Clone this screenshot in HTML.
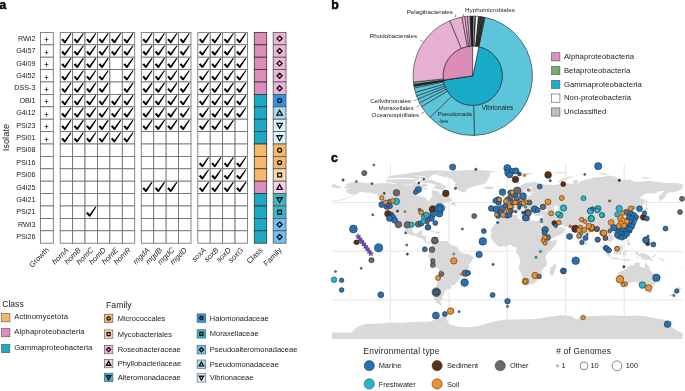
<!DOCTYPE html>
<html><head><meta charset="utf-8"><style>
html,body{margin:0;padding:0;background:#fff;width:685px;height:391px;overflow:hidden}
svg{display:block;font-family:"Liberation Sans",sans-serif;will-change:transform}
</style></head><body>
<svg width="685" height="391" viewBox="0 0 685 391">

<text x="-0.6" y="9.2" style="font-weight:bold;font-size:12px" stroke="#000" stroke-width="0.45">a</text>
<rect x="40.4" y="32.40" width="12.899999999999999" height="12.4" fill="#fff" stroke="#6a6a6a" stroke-width="0.8"/>
<path d="M44.6,39.5 h3.8 M46.5,37.4 v4.2" stroke="#2a2a2a" stroke-width="0.8"/>
<rect x="40.4" y="44.80" width="12.899999999999999" height="12.4" fill="#fff" stroke="#6a6a6a" stroke-width="0.8"/>
<path d="M44.6,52.5 h3.8 M46.5,50.4 v4.2" stroke="#2a2a2a" stroke-width="0.8"/>
<rect x="40.4" y="57.20" width="12.899999999999999" height="12.4" fill="#fff" stroke="#6a6a6a" stroke-width="0.8"/>
<path d="M44.6,64.5 h3.8 M46.5,62.4 v4.2" stroke="#2a2a2a" stroke-width="0.8"/>
<rect x="40.4" y="69.60" width="12.899999999999999" height="12.4" fill="#fff" stroke="#6a6a6a" stroke-width="0.8"/>
<path d="M44.6,77.5 h3.8 M46.5,75.4 v4.2" stroke="#2a2a2a" stroke-width="0.8"/>
<rect x="40.4" y="82.00" width="12.899999999999999" height="12.4" fill="#fff" stroke="#6a6a6a" stroke-width="0.8"/>
<path d="M44.6,89.5 h3.8 M46.5,87.4 v4.2" stroke="#2a2a2a" stroke-width="0.8"/>
<rect x="40.4" y="94.40" width="12.899999999999999" height="12.4" fill="#fff" stroke="#6a6a6a" stroke-width="0.8"/>
<path d="M44.6,101.5 h3.8 M46.5,99.4 v4.2" stroke="#2a2a2a" stroke-width="0.8"/>
<rect x="40.4" y="106.80" width="12.899999999999999" height="12.4" fill="#fff" stroke="#6a6a6a" stroke-width="0.8"/>
<path d="M44.6,114.5 h3.8 M46.5,112.4 v4.2" stroke="#2a2a2a" stroke-width="0.8"/>
<rect x="40.4" y="119.20" width="12.899999999999999" height="12.4" fill="#fff" stroke="#6a6a6a" stroke-width="0.8"/>
<path d="M44.6,126.5 h3.8 M46.5,124.4 v4.2" stroke="#2a2a2a" stroke-width="0.8"/>
<rect x="40.4" y="131.60" width="12.899999999999999" height="12.4" fill="#fff" stroke="#6a6a6a" stroke-width="0.8"/>
<path d="M44.6,139.5 h3.8 M46.5,137.4 v4.2" stroke="#2a2a2a" stroke-width="0.8"/>
<rect x="40.4" y="144.00" width="12.899999999999999" height="12.4" fill="#fff" stroke="#6a6a6a" stroke-width="0.8"/>
<rect x="40.4" y="156.40" width="12.899999999999999" height="12.4" fill="#fff" stroke="#6a6a6a" stroke-width="0.8"/>
<rect x="40.4" y="168.80" width="12.899999999999999" height="12.4" fill="#fff" stroke="#6a6a6a" stroke-width="0.8"/>
<rect x="40.4" y="181.20" width="12.899999999999999" height="12.4" fill="#fff" stroke="#6a6a6a" stroke-width="0.8"/>
<rect x="40.4" y="193.60" width="12.899999999999999" height="12.4" fill="#fff" stroke="#6a6a6a" stroke-width="0.8"/>
<rect x="40.4" y="206.00" width="12.899999999999999" height="12.4" fill="#fff" stroke="#6a6a6a" stroke-width="0.8"/>
<rect x="40.4" y="218.40" width="12.899999999999999" height="12.4" fill="#fff" stroke="#6a6a6a" stroke-width="0.8"/>
<rect x="40.4" y="230.80" width="12.899999999999999" height="12.4" fill="#fff" stroke="#6a6a6a" stroke-width="0.8"/>
<rect x="60.20" y="32.40" width="12.42" height="12.4" fill="#fff" stroke="#6a6a6a" stroke-width="0.8"/>
<rect x="72.62" y="32.40" width="12.42" height="12.4" fill="#fff" stroke="#6a6a6a" stroke-width="0.8"/>
<rect x="85.04" y="32.40" width="12.42" height="12.4" fill="#fff" stroke="#6a6a6a" stroke-width="0.8"/>
<rect x="97.46" y="32.40" width="12.42" height="12.4" fill="#fff" stroke="#6a6a6a" stroke-width="0.8"/>
<rect x="109.88" y="32.40" width="12.42" height="12.4" fill="#fff" stroke="#6a6a6a" stroke-width="0.8"/>
<rect x="122.30" y="32.40" width="12.42" height="12.4" fill="#fff" stroke="#6a6a6a" stroke-width="0.8"/>
<rect x="60.20" y="44.80" width="12.42" height="12.4" fill="#fff" stroke="#6a6a6a" stroke-width="0.8"/>
<rect x="72.62" y="44.80" width="12.42" height="12.4" fill="#fff" stroke="#6a6a6a" stroke-width="0.8"/>
<rect x="85.04" y="44.80" width="12.42" height="12.4" fill="#fff" stroke="#6a6a6a" stroke-width="0.8"/>
<rect x="97.46" y="44.80" width="12.42" height="12.4" fill="#fff" stroke="#6a6a6a" stroke-width="0.8"/>
<rect x="109.88" y="44.80" width="12.42" height="12.4" fill="#fff" stroke="#6a6a6a" stroke-width="0.8"/>
<rect x="122.30" y="44.80" width="12.42" height="12.4" fill="#fff" stroke="#6a6a6a" stroke-width="0.8"/>
<rect x="60.20" y="57.20" width="12.42" height="12.4" fill="#fff" stroke="#6a6a6a" stroke-width="0.8"/>
<rect x="72.62" y="57.20" width="12.42" height="12.4" fill="#fff" stroke="#6a6a6a" stroke-width="0.8"/>
<rect x="85.04" y="57.20" width="12.42" height="12.4" fill="#fff" stroke="#6a6a6a" stroke-width="0.8"/>
<rect x="97.46" y="57.20" width="12.42" height="12.4" fill="#fff" stroke="#6a6a6a" stroke-width="0.8"/>
<rect x="109.88" y="57.20" width="12.42" height="12.4" fill="#fff" stroke="#6a6a6a" stroke-width="0.8"/>
<rect x="122.30" y="57.20" width="12.42" height="12.4" fill="#fff" stroke="#6a6a6a" stroke-width="0.8"/>
<rect x="60.20" y="69.60" width="12.42" height="12.4" fill="#fff" stroke="#6a6a6a" stroke-width="0.8"/>
<rect x="72.62" y="69.60" width="12.42" height="12.4" fill="#fff" stroke="#6a6a6a" stroke-width="0.8"/>
<rect x="85.04" y="69.60" width="12.42" height="12.4" fill="#fff" stroke="#6a6a6a" stroke-width="0.8"/>
<rect x="97.46" y="69.60" width="12.42" height="12.4" fill="#fff" stroke="#6a6a6a" stroke-width="0.8"/>
<rect x="109.88" y="69.60" width="12.42" height="12.4" fill="#fff" stroke="#6a6a6a" stroke-width="0.8"/>
<rect x="122.30" y="69.60" width="12.42" height="12.4" fill="#fff" stroke="#6a6a6a" stroke-width="0.8"/>
<rect x="60.20" y="82.00" width="12.42" height="12.4" fill="#fff" stroke="#6a6a6a" stroke-width="0.8"/>
<rect x="72.62" y="82.00" width="12.42" height="12.4" fill="#fff" stroke="#6a6a6a" stroke-width="0.8"/>
<rect x="85.04" y="82.00" width="12.42" height="12.4" fill="#fff" stroke="#6a6a6a" stroke-width="0.8"/>
<rect x="97.46" y="82.00" width="12.42" height="12.4" fill="#fff" stroke="#6a6a6a" stroke-width="0.8"/>
<rect x="109.88" y="82.00" width="12.42" height="12.4" fill="#fff" stroke="#6a6a6a" stroke-width="0.8"/>
<rect x="122.30" y="82.00" width="12.42" height="12.4" fill="#fff" stroke="#6a6a6a" stroke-width="0.8"/>
<rect x="60.20" y="94.40" width="12.42" height="12.4" fill="#fff" stroke="#6a6a6a" stroke-width="0.8"/>
<rect x="72.62" y="94.40" width="12.42" height="12.4" fill="#fff" stroke="#6a6a6a" stroke-width="0.8"/>
<rect x="85.04" y="94.40" width="12.42" height="12.4" fill="#fff" stroke="#6a6a6a" stroke-width="0.8"/>
<rect x="97.46" y="94.40" width="12.42" height="12.4" fill="#fff" stroke="#6a6a6a" stroke-width="0.8"/>
<rect x="109.88" y="94.40" width="12.42" height="12.4" fill="#fff" stroke="#6a6a6a" stroke-width="0.8"/>
<rect x="122.30" y="94.40" width="12.42" height="12.4" fill="#fff" stroke="#6a6a6a" stroke-width="0.8"/>
<rect x="60.20" y="106.80" width="12.42" height="12.4" fill="#fff" stroke="#6a6a6a" stroke-width="0.8"/>
<rect x="72.62" y="106.80" width="12.42" height="12.4" fill="#fff" stroke="#6a6a6a" stroke-width="0.8"/>
<rect x="85.04" y="106.80" width="12.42" height="12.4" fill="#fff" stroke="#6a6a6a" stroke-width="0.8"/>
<rect x="97.46" y="106.80" width="12.42" height="12.4" fill="#fff" stroke="#6a6a6a" stroke-width="0.8"/>
<rect x="109.88" y="106.80" width="12.42" height="12.4" fill="#fff" stroke="#6a6a6a" stroke-width="0.8"/>
<rect x="122.30" y="106.80" width="12.42" height="12.4" fill="#fff" stroke="#6a6a6a" stroke-width="0.8"/>
<rect x="60.20" y="119.20" width="12.42" height="12.4" fill="#fff" stroke="#6a6a6a" stroke-width="0.8"/>
<rect x="72.62" y="119.20" width="12.42" height="12.4" fill="#fff" stroke="#6a6a6a" stroke-width="0.8"/>
<rect x="85.04" y="119.20" width="12.42" height="12.4" fill="#fff" stroke="#6a6a6a" stroke-width="0.8"/>
<rect x="97.46" y="119.20" width="12.42" height="12.4" fill="#fff" stroke="#6a6a6a" stroke-width="0.8"/>
<rect x="109.88" y="119.20" width="12.42" height="12.4" fill="#fff" stroke="#6a6a6a" stroke-width="0.8"/>
<rect x="122.30" y="119.20" width="12.42" height="12.4" fill="#fff" stroke="#6a6a6a" stroke-width="0.8"/>
<rect x="60.20" y="131.60" width="12.42" height="12.4" fill="#fff" stroke="#6a6a6a" stroke-width="0.8"/>
<rect x="72.62" y="131.60" width="12.42" height="12.4" fill="#fff" stroke="#6a6a6a" stroke-width="0.8"/>
<rect x="85.04" y="131.60" width="12.42" height="12.4" fill="#fff" stroke="#6a6a6a" stroke-width="0.8"/>
<rect x="97.46" y="131.60" width="12.42" height="12.4" fill="#fff" stroke="#6a6a6a" stroke-width="0.8"/>
<rect x="109.88" y="131.60" width="12.42" height="12.4" fill="#fff" stroke="#6a6a6a" stroke-width="0.8"/>
<rect x="122.30" y="131.60" width="12.42" height="12.4" fill="#fff" stroke="#6a6a6a" stroke-width="0.8"/>
<rect x="60.20" y="144.00" width="12.42" height="12.4" fill="#fff" stroke="#6a6a6a" stroke-width="0.8"/>
<rect x="72.62" y="144.00" width="12.42" height="12.4" fill="#fff" stroke="#6a6a6a" stroke-width="0.8"/>
<rect x="85.04" y="144.00" width="12.42" height="12.4" fill="#fff" stroke="#6a6a6a" stroke-width="0.8"/>
<rect x="97.46" y="144.00" width="12.42" height="12.4" fill="#fff" stroke="#6a6a6a" stroke-width="0.8"/>
<rect x="109.88" y="144.00" width="12.42" height="12.4" fill="#fff" stroke="#6a6a6a" stroke-width="0.8"/>
<rect x="122.30" y="144.00" width="12.42" height="12.4" fill="#fff" stroke="#6a6a6a" stroke-width="0.8"/>
<rect x="60.20" y="156.40" width="12.42" height="12.4" fill="#fff" stroke="#6a6a6a" stroke-width="0.8"/>
<rect x="72.62" y="156.40" width="12.42" height="12.4" fill="#fff" stroke="#6a6a6a" stroke-width="0.8"/>
<rect x="85.04" y="156.40" width="12.42" height="12.4" fill="#fff" stroke="#6a6a6a" stroke-width="0.8"/>
<rect x="97.46" y="156.40" width="12.42" height="12.4" fill="#fff" stroke="#6a6a6a" stroke-width="0.8"/>
<rect x="109.88" y="156.40" width="12.42" height="12.4" fill="#fff" stroke="#6a6a6a" stroke-width="0.8"/>
<rect x="122.30" y="156.40" width="12.42" height="12.4" fill="#fff" stroke="#6a6a6a" stroke-width="0.8"/>
<rect x="60.20" y="168.80" width="12.42" height="12.4" fill="#fff" stroke="#6a6a6a" stroke-width="0.8"/>
<rect x="72.62" y="168.80" width="12.42" height="12.4" fill="#fff" stroke="#6a6a6a" stroke-width="0.8"/>
<rect x="85.04" y="168.80" width="12.42" height="12.4" fill="#fff" stroke="#6a6a6a" stroke-width="0.8"/>
<rect x="97.46" y="168.80" width="12.42" height="12.4" fill="#fff" stroke="#6a6a6a" stroke-width="0.8"/>
<rect x="109.88" y="168.80" width="12.42" height="12.4" fill="#fff" stroke="#6a6a6a" stroke-width="0.8"/>
<rect x="122.30" y="168.80" width="12.42" height="12.4" fill="#fff" stroke="#6a6a6a" stroke-width="0.8"/>
<rect x="60.20" y="181.20" width="12.42" height="12.4" fill="#fff" stroke="#6a6a6a" stroke-width="0.8"/>
<rect x="72.62" y="181.20" width="12.42" height="12.4" fill="#fff" stroke="#6a6a6a" stroke-width="0.8"/>
<rect x="85.04" y="181.20" width="12.42" height="12.4" fill="#fff" stroke="#6a6a6a" stroke-width="0.8"/>
<rect x="97.46" y="181.20" width="12.42" height="12.4" fill="#fff" stroke="#6a6a6a" stroke-width="0.8"/>
<rect x="109.88" y="181.20" width="12.42" height="12.4" fill="#fff" stroke="#6a6a6a" stroke-width="0.8"/>
<rect x="122.30" y="181.20" width="12.42" height="12.4" fill="#fff" stroke="#6a6a6a" stroke-width="0.8"/>
<rect x="60.20" y="193.60" width="12.42" height="12.4" fill="#fff" stroke="#6a6a6a" stroke-width="0.8"/>
<rect x="72.62" y="193.60" width="12.42" height="12.4" fill="#fff" stroke="#6a6a6a" stroke-width="0.8"/>
<rect x="85.04" y="193.60" width="12.42" height="12.4" fill="#fff" stroke="#6a6a6a" stroke-width="0.8"/>
<rect x="97.46" y="193.60" width="12.42" height="12.4" fill="#fff" stroke="#6a6a6a" stroke-width="0.8"/>
<rect x="109.88" y="193.60" width="12.42" height="12.4" fill="#fff" stroke="#6a6a6a" stroke-width="0.8"/>
<rect x="122.30" y="193.60" width="12.42" height="12.4" fill="#fff" stroke="#6a6a6a" stroke-width="0.8"/>
<rect x="60.20" y="206.00" width="12.42" height="12.4" fill="#fff" stroke="#6a6a6a" stroke-width="0.8"/>
<rect x="72.62" y="206.00" width="12.42" height="12.4" fill="#fff" stroke="#6a6a6a" stroke-width="0.8"/>
<rect x="85.04" y="206.00" width="12.42" height="12.4" fill="#fff" stroke="#6a6a6a" stroke-width="0.8"/>
<rect x="97.46" y="206.00" width="12.42" height="12.4" fill="#fff" stroke="#6a6a6a" stroke-width="0.8"/>
<rect x="109.88" y="206.00" width="12.42" height="12.4" fill="#fff" stroke="#6a6a6a" stroke-width="0.8"/>
<rect x="122.30" y="206.00" width="12.42" height="12.4" fill="#fff" stroke="#6a6a6a" stroke-width="0.8"/>
<rect x="60.20" y="218.40" width="12.42" height="12.4" fill="#fff" stroke="#6a6a6a" stroke-width="0.8"/>
<rect x="72.62" y="218.40" width="12.42" height="12.4" fill="#fff" stroke="#6a6a6a" stroke-width="0.8"/>
<rect x="85.04" y="218.40" width="12.42" height="12.4" fill="#fff" stroke="#6a6a6a" stroke-width="0.8"/>
<rect x="97.46" y="218.40" width="12.42" height="12.4" fill="#fff" stroke="#6a6a6a" stroke-width="0.8"/>
<rect x="109.88" y="218.40" width="12.42" height="12.4" fill="#fff" stroke="#6a6a6a" stroke-width="0.8"/>
<rect x="122.30" y="218.40" width="12.42" height="12.4" fill="#fff" stroke="#6a6a6a" stroke-width="0.8"/>
<rect x="60.20" y="230.80" width="12.42" height="12.4" fill="#fff" stroke="#6a6a6a" stroke-width="0.8"/>
<rect x="72.62" y="230.80" width="12.42" height="12.4" fill="#fff" stroke="#6a6a6a" stroke-width="0.8"/>
<rect x="85.04" y="230.80" width="12.42" height="12.4" fill="#fff" stroke="#6a6a6a" stroke-width="0.8"/>
<rect x="97.46" y="230.80" width="12.42" height="12.4" fill="#fff" stroke="#6a6a6a" stroke-width="0.8"/>
<rect x="109.88" y="230.80" width="12.42" height="12.4" fill="#fff" stroke="#6a6a6a" stroke-width="0.8"/>
<rect x="122.30" y="230.80" width="12.42" height="12.4" fill="#fff" stroke="#6a6a6a" stroke-width="0.8"/>
<path d="M61.23,39.77 L62.97,38.43 L64.75,40.70 L70.59,33.02 L71.41,33.58 L65.50,42.90 L64.30,43.20Z" fill="#000"/>
<path d="M73.65,39.77 L75.39,38.43 L77.17,40.70 L83.01,33.02 L83.83,33.58 L77.92,42.90 L76.72,43.20Z" fill="#000"/>
<path d="M86.07,39.77 L87.81,38.43 L89.59,40.70 L95.43,33.02 L96.25,33.58 L90.34,42.90 L89.14,43.20Z" fill="#000"/>
<path d="M98.49,39.77 L100.23,38.43 L102.01,40.70 L107.85,33.02 L108.67,33.58 L102.76,42.90 L101.56,43.20Z" fill="#000"/>
<path d="M110.91,39.77 L112.65,38.43 L114.43,40.70 L120.27,33.02 L121.09,33.58 L115.18,42.90 L113.98,43.20Z" fill="#000"/>
<path d="M123.33,39.77 L125.07,38.43 L126.85,40.70 L132.69,33.02 L133.51,33.58 L127.60,42.90 L126.40,43.20Z" fill="#000"/>
<path d="M61.23,52.17 L62.97,50.83 L64.75,53.10 L70.59,45.42 L71.41,45.98 L65.50,55.30 L64.30,55.60Z" fill="#000"/>
<path d="M73.65,52.17 L75.39,50.83 L77.17,53.10 L83.01,45.42 L83.83,45.98 L77.92,55.30 L76.72,55.60Z" fill="#000"/>
<path d="M86.07,52.17 L87.81,50.83 L89.59,53.10 L95.43,45.42 L96.25,45.98 L90.34,55.30 L89.14,55.60Z" fill="#000"/>
<path d="M98.49,52.17 L100.23,50.83 L102.01,53.10 L107.85,45.42 L108.67,45.98 L102.76,55.30 L101.56,55.60Z" fill="#000"/>
<path d="M110.91,52.17 L112.65,50.83 L114.43,53.10 L120.27,45.42 L121.09,45.98 L115.18,55.30 L113.98,55.60Z" fill="#000"/>
<path d="M123.33,52.17 L125.07,50.83 L126.85,53.10 L132.69,45.42 L133.51,45.98 L127.60,55.30 L126.40,55.60Z" fill="#000"/>
<path d="M61.23,64.57 L62.97,63.23 L64.75,65.50 L70.59,57.82 L71.41,58.38 L65.50,67.70 L64.30,68.00Z" fill="#000"/>
<path d="M73.65,64.57 L75.39,63.23 L77.17,65.50 L83.01,57.82 L83.83,58.38 L77.92,67.70 L76.72,68.00Z" fill="#000"/>
<path d="M86.07,64.57 L87.81,63.23 L89.59,65.50 L95.43,57.82 L96.25,58.38 L90.34,67.70 L89.14,68.00Z" fill="#000"/>
<path d="M98.49,64.57 L100.23,63.23 L102.01,65.50 L107.85,57.82 L108.67,58.38 L102.76,67.70 L101.56,68.00Z" fill="#000"/>
<path d="M123.33,64.57 L125.07,63.23 L126.85,65.50 L132.69,57.82 L133.51,58.38 L127.60,67.70 L126.40,68.00Z" fill="#000"/>
<path d="M61.23,76.97 L62.97,75.63 L64.75,77.90 L70.59,70.22 L71.41,70.78 L65.50,80.10 L64.30,80.40Z" fill="#000"/>
<path d="M73.65,76.97 L75.39,75.63 L77.17,77.90 L83.01,70.22 L83.83,70.78 L77.92,80.10 L76.72,80.40Z" fill="#000"/>
<path d="M86.07,76.97 L87.81,75.63 L89.59,77.90 L95.43,70.22 L96.25,70.78 L90.34,80.10 L89.14,80.40Z" fill="#000"/>
<path d="M98.49,76.97 L100.23,75.63 L102.01,77.90 L107.85,70.22 L108.67,70.78 L102.76,80.10 L101.56,80.40Z" fill="#000"/>
<path d="M123.33,76.97 L125.07,75.63 L126.85,77.90 L132.69,70.22 L133.51,70.78 L127.60,80.10 L126.40,80.40Z" fill="#000"/>
<path d="M61.23,89.37 L62.97,88.03 L64.75,90.30 L70.59,82.62 L71.41,83.18 L65.50,92.50 L64.30,92.80Z" fill="#000"/>
<path d="M73.65,89.37 L75.39,88.03 L77.17,90.30 L83.01,82.62 L83.83,83.18 L77.92,92.50 L76.72,92.80Z" fill="#000"/>
<path d="M86.07,89.37 L87.81,88.03 L89.59,90.30 L95.43,82.62 L96.25,83.18 L90.34,92.50 L89.14,92.80Z" fill="#000"/>
<path d="M98.49,89.37 L100.23,88.03 L102.01,90.30 L107.85,82.62 L108.67,83.18 L102.76,92.50 L101.56,92.80Z" fill="#000"/>
<path d="M123.33,89.37 L125.07,88.03 L126.85,90.30 L132.69,82.62 L133.51,83.18 L127.60,92.50 L126.40,92.80Z" fill="#000"/>
<path d="M61.23,101.77 L62.97,100.43 L64.75,102.70 L70.59,95.02 L71.41,95.58 L65.50,104.90 L64.30,105.20Z" fill="#000"/>
<path d="M73.65,101.77 L75.39,100.43 L77.17,102.70 L83.01,95.02 L83.83,95.58 L77.92,104.90 L76.72,105.20Z" fill="#000"/>
<path d="M86.07,101.77 L87.81,100.43 L89.59,102.70 L95.43,95.02 L96.25,95.58 L90.34,104.90 L89.14,105.20Z" fill="#000"/>
<path d="M98.49,101.77 L100.23,100.43 L102.01,102.70 L107.85,95.02 L108.67,95.58 L102.76,104.90 L101.56,105.20Z" fill="#000"/>
<path d="M110.91,101.77 L112.65,100.43 L114.43,102.70 L120.27,95.02 L121.09,95.58 L115.18,104.90 L113.98,105.20Z" fill="#000"/>
<path d="M123.33,101.77 L125.07,100.43 L126.85,102.70 L132.69,95.02 L133.51,95.58 L127.60,104.90 L126.40,105.20Z" fill="#000"/>
<path d="M61.23,114.17 L62.97,112.83 L64.75,115.10 L70.59,107.42 L71.41,107.98 L65.50,117.30 L64.30,117.60Z" fill="#000"/>
<path d="M73.65,114.17 L75.39,112.83 L77.17,115.10 L83.01,107.42 L83.83,107.98 L77.92,117.30 L76.72,117.60Z" fill="#000"/>
<path d="M86.07,114.17 L87.81,112.83 L89.59,115.10 L95.43,107.42 L96.25,107.98 L90.34,117.30 L89.14,117.60Z" fill="#000"/>
<path d="M98.49,114.17 L100.23,112.83 L102.01,115.10 L107.85,107.42 L108.67,107.98 L102.76,117.30 L101.56,117.60Z" fill="#000"/>
<path d="M110.91,114.17 L112.65,112.83 L114.43,115.10 L120.27,107.42 L121.09,107.98 L115.18,117.30 L113.98,117.60Z" fill="#000"/>
<path d="M123.33,114.17 L125.07,112.83 L126.85,115.10 L132.69,107.42 L133.51,107.98 L127.60,117.30 L126.40,117.60Z" fill="#000"/>
<path d="M61.23,126.57 L62.97,125.23 L64.75,127.50 L70.59,119.82 L71.41,120.38 L65.50,129.70 L64.30,130.00Z" fill="#000"/>
<path d="M73.65,126.57 L75.39,125.23 L77.17,127.50 L83.01,119.82 L83.83,120.38 L77.92,129.70 L76.72,130.00Z" fill="#000"/>
<path d="M86.07,126.57 L87.81,125.23 L89.59,127.50 L95.43,119.82 L96.25,120.38 L90.34,129.70 L89.14,130.00Z" fill="#000"/>
<path d="M98.49,126.57 L100.23,125.23 L102.01,127.50 L107.85,119.82 L108.67,120.38 L102.76,129.70 L101.56,130.00Z" fill="#000"/>
<path d="M110.91,126.57 L112.65,125.23 L114.43,127.50 L120.27,119.82 L121.09,120.38 L115.18,129.70 L113.98,130.00Z" fill="#000"/>
<path d="M123.33,126.57 L125.07,125.23 L126.85,127.50 L132.69,119.82 L133.51,120.38 L127.60,129.70 L126.40,130.00Z" fill="#000"/>
<path d="M61.23,138.97 L62.97,137.63 L64.75,139.90 L70.59,132.22 L71.41,132.78 L65.50,142.10 L64.30,142.40Z" fill="#000"/>
<path d="M73.65,138.97 L75.39,137.63 L77.17,139.90 L83.01,132.22 L83.83,132.78 L77.92,142.10 L76.72,142.40Z" fill="#000"/>
<path d="M86.07,138.97 L87.81,137.63 L89.59,139.90 L95.43,132.22 L96.25,132.78 L90.34,142.10 L89.14,142.40Z" fill="#000"/>
<path d="M98.49,138.97 L100.23,137.63 L102.01,139.90 L107.85,132.22 L108.67,132.78 L102.76,142.10 L101.56,142.40Z" fill="#000"/>
<path d="M110.91,138.97 L112.65,137.63 L114.43,139.90 L120.27,132.22 L121.09,132.78 L115.18,142.10 L113.98,142.40Z" fill="#000"/>
<path d="M123.33,138.97 L125.07,137.63 L126.85,139.90 L132.69,132.22 L133.51,132.78 L127.60,142.10 L126.40,142.40Z" fill="#000"/>
<path d="M86.07,213.37 L87.81,212.03 L89.59,214.30 L95.43,206.62 L96.25,207.18 L90.34,216.50 L89.14,216.80Z" fill="#000"/>
<rect x="141.30" y="32.40" width="12.42" height="12.4" fill="#fff" stroke="#6a6a6a" stroke-width="0.8"/>
<rect x="153.72" y="32.40" width="12.42" height="12.4" fill="#fff" stroke="#6a6a6a" stroke-width="0.8"/>
<rect x="166.14" y="32.40" width="12.42" height="12.4" fill="#fff" stroke="#6a6a6a" stroke-width="0.8"/>
<rect x="178.56" y="32.40" width="12.42" height="12.4" fill="#fff" stroke="#6a6a6a" stroke-width="0.8"/>
<rect x="141.30" y="44.80" width="12.42" height="12.4" fill="#fff" stroke="#6a6a6a" stroke-width="0.8"/>
<rect x="153.72" y="44.80" width="12.42" height="12.4" fill="#fff" stroke="#6a6a6a" stroke-width="0.8"/>
<rect x="166.14" y="44.80" width="12.42" height="12.4" fill="#fff" stroke="#6a6a6a" stroke-width="0.8"/>
<rect x="178.56" y="44.80" width="12.42" height="12.4" fill="#fff" stroke="#6a6a6a" stroke-width="0.8"/>
<rect x="141.30" y="57.20" width="12.42" height="12.4" fill="#fff" stroke="#6a6a6a" stroke-width="0.8"/>
<rect x="153.72" y="57.20" width="12.42" height="12.4" fill="#fff" stroke="#6a6a6a" stroke-width="0.8"/>
<rect x="166.14" y="57.20" width="12.42" height="12.4" fill="#fff" stroke="#6a6a6a" stroke-width="0.8"/>
<rect x="178.56" y="57.20" width="12.42" height="12.4" fill="#fff" stroke="#6a6a6a" stroke-width="0.8"/>
<rect x="141.30" y="69.60" width="12.42" height="12.4" fill="#fff" stroke="#6a6a6a" stroke-width="0.8"/>
<rect x="153.72" y="69.60" width="12.42" height="12.4" fill="#fff" stroke="#6a6a6a" stroke-width="0.8"/>
<rect x="166.14" y="69.60" width="12.42" height="12.4" fill="#fff" stroke="#6a6a6a" stroke-width="0.8"/>
<rect x="178.56" y="69.60" width="12.42" height="12.4" fill="#fff" stroke="#6a6a6a" stroke-width="0.8"/>
<rect x="141.30" y="82.00" width="12.42" height="12.4" fill="#fff" stroke="#6a6a6a" stroke-width="0.8"/>
<rect x="153.72" y="82.00" width="12.42" height="12.4" fill="#fff" stroke="#6a6a6a" stroke-width="0.8"/>
<rect x="166.14" y="82.00" width="12.42" height="12.4" fill="#fff" stroke="#6a6a6a" stroke-width="0.8"/>
<rect x="178.56" y="82.00" width="12.42" height="12.4" fill="#fff" stroke="#6a6a6a" stroke-width="0.8"/>
<rect x="141.30" y="94.40" width="12.42" height="12.4" fill="#fff" stroke="#6a6a6a" stroke-width="0.8"/>
<rect x="153.72" y="94.40" width="12.42" height="12.4" fill="#fff" stroke="#6a6a6a" stroke-width="0.8"/>
<rect x="166.14" y="94.40" width="12.42" height="12.4" fill="#fff" stroke="#6a6a6a" stroke-width="0.8"/>
<rect x="178.56" y="94.40" width="12.42" height="12.4" fill="#fff" stroke="#6a6a6a" stroke-width="0.8"/>
<rect x="141.30" y="106.80" width="12.42" height="12.4" fill="#fff" stroke="#6a6a6a" stroke-width="0.8"/>
<rect x="153.72" y="106.80" width="12.42" height="12.4" fill="#fff" stroke="#6a6a6a" stroke-width="0.8"/>
<rect x="166.14" y="106.80" width="12.42" height="12.4" fill="#fff" stroke="#6a6a6a" stroke-width="0.8"/>
<rect x="178.56" y="106.80" width="12.42" height="12.4" fill="#fff" stroke="#6a6a6a" stroke-width="0.8"/>
<rect x="141.30" y="119.20" width="12.42" height="12.4" fill="#fff" stroke="#6a6a6a" stroke-width="0.8"/>
<rect x="153.72" y="119.20" width="12.42" height="12.4" fill="#fff" stroke="#6a6a6a" stroke-width="0.8"/>
<rect x="166.14" y="119.20" width="12.42" height="12.4" fill="#fff" stroke="#6a6a6a" stroke-width="0.8"/>
<rect x="178.56" y="119.20" width="12.42" height="12.4" fill="#fff" stroke="#6a6a6a" stroke-width="0.8"/>
<rect x="141.30" y="131.60" width="12.42" height="12.4" fill="#fff" stroke="#6a6a6a" stroke-width="0.8"/>
<rect x="153.72" y="131.60" width="12.42" height="12.4" fill="#fff" stroke="#6a6a6a" stroke-width="0.8"/>
<rect x="166.14" y="131.60" width="12.42" height="12.4" fill="#fff" stroke="#6a6a6a" stroke-width="0.8"/>
<rect x="178.56" y="131.60" width="12.42" height="12.4" fill="#fff" stroke="#6a6a6a" stroke-width="0.8"/>
<rect x="141.30" y="144.00" width="12.42" height="12.4" fill="#fff" stroke="#6a6a6a" stroke-width="0.8"/>
<rect x="153.72" y="144.00" width="12.42" height="12.4" fill="#fff" stroke="#6a6a6a" stroke-width="0.8"/>
<rect x="166.14" y="144.00" width="12.42" height="12.4" fill="#fff" stroke="#6a6a6a" stroke-width="0.8"/>
<rect x="178.56" y="144.00" width="12.42" height="12.4" fill="#fff" stroke="#6a6a6a" stroke-width="0.8"/>
<rect x="141.30" y="156.40" width="12.42" height="12.4" fill="#fff" stroke="#6a6a6a" stroke-width="0.8"/>
<rect x="153.72" y="156.40" width="12.42" height="12.4" fill="#fff" stroke="#6a6a6a" stroke-width="0.8"/>
<rect x="166.14" y="156.40" width="12.42" height="12.4" fill="#fff" stroke="#6a6a6a" stroke-width="0.8"/>
<rect x="178.56" y="156.40" width="12.42" height="12.4" fill="#fff" stroke="#6a6a6a" stroke-width="0.8"/>
<rect x="141.30" y="168.80" width="12.42" height="12.4" fill="#fff" stroke="#6a6a6a" stroke-width="0.8"/>
<rect x="153.72" y="168.80" width="12.42" height="12.4" fill="#fff" stroke="#6a6a6a" stroke-width="0.8"/>
<rect x="166.14" y="168.80" width="12.42" height="12.4" fill="#fff" stroke="#6a6a6a" stroke-width="0.8"/>
<rect x="178.56" y="168.80" width="12.42" height="12.4" fill="#fff" stroke="#6a6a6a" stroke-width="0.8"/>
<rect x="141.30" y="181.20" width="12.42" height="12.4" fill="#fff" stroke="#6a6a6a" stroke-width="0.8"/>
<rect x="153.72" y="181.20" width="12.42" height="12.4" fill="#fff" stroke="#6a6a6a" stroke-width="0.8"/>
<rect x="166.14" y="181.20" width="12.42" height="12.4" fill="#fff" stroke="#6a6a6a" stroke-width="0.8"/>
<rect x="178.56" y="181.20" width="12.42" height="12.4" fill="#fff" stroke="#6a6a6a" stroke-width="0.8"/>
<rect x="141.30" y="193.60" width="12.42" height="12.4" fill="#fff" stroke="#6a6a6a" stroke-width="0.8"/>
<rect x="153.72" y="193.60" width="12.42" height="12.4" fill="#fff" stroke="#6a6a6a" stroke-width="0.8"/>
<rect x="166.14" y="193.60" width="12.42" height="12.4" fill="#fff" stroke="#6a6a6a" stroke-width="0.8"/>
<rect x="178.56" y="193.60" width="12.42" height="12.4" fill="#fff" stroke="#6a6a6a" stroke-width="0.8"/>
<rect x="141.30" y="206.00" width="12.42" height="12.4" fill="#fff" stroke="#6a6a6a" stroke-width="0.8"/>
<rect x="153.72" y="206.00" width="12.42" height="12.4" fill="#fff" stroke="#6a6a6a" stroke-width="0.8"/>
<rect x="166.14" y="206.00" width="12.42" height="12.4" fill="#fff" stroke="#6a6a6a" stroke-width="0.8"/>
<rect x="178.56" y="206.00" width="12.42" height="12.4" fill="#fff" stroke="#6a6a6a" stroke-width="0.8"/>
<rect x="141.30" y="218.40" width="12.42" height="12.4" fill="#fff" stroke="#6a6a6a" stroke-width="0.8"/>
<rect x="153.72" y="218.40" width="12.42" height="12.4" fill="#fff" stroke="#6a6a6a" stroke-width="0.8"/>
<rect x="166.14" y="218.40" width="12.42" height="12.4" fill="#fff" stroke="#6a6a6a" stroke-width="0.8"/>
<rect x="178.56" y="218.40" width="12.42" height="12.4" fill="#fff" stroke="#6a6a6a" stroke-width="0.8"/>
<rect x="141.30" y="230.80" width="12.42" height="12.4" fill="#fff" stroke="#6a6a6a" stroke-width="0.8"/>
<rect x="153.72" y="230.80" width="12.42" height="12.4" fill="#fff" stroke="#6a6a6a" stroke-width="0.8"/>
<rect x="166.14" y="230.80" width="12.42" height="12.4" fill="#fff" stroke="#6a6a6a" stroke-width="0.8"/>
<rect x="178.56" y="230.80" width="12.42" height="12.4" fill="#fff" stroke="#6a6a6a" stroke-width="0.8"/>
<path d="M142.33,39.77 L144.07,38.43 L145.85,40.70 L151.69,33.02 L152.51,33.58 L146.60,42.90 L145.40,43.20Z" fill="#000"/>
<path d="M154.75,39.77 L156.49,38.43 L158.27,40.70 L164.11,33.02 L164.93,33.58 L159.02,42.90 L157.82,43.20Z" fill="#000"/>
<path d="M167.17,39.77 L168.91,38.43 L170.69,40.70 L176.53,33.02 L177.35,33.58 L171.44,42.90 L170.24,43.20Z" fill="#000"/>
<path d="M179.59,39.77 L181.33,38.43 L183.11,40.70 L188.95,33.02 L189.77,33.58 L183.86,42.90 L182.66,43.20Z" fill="#000"/>
<path d="M142.33,52.17 L144.07,50.83 L145.85,53.10 L151.69,45.42 L152.51,45.98 L146.60,55.30 L145.40,55.60Z" fill="#000"/>
<path d="M154.75,52.17 L156.49,50.83 L158.27,53.10 L164.11,45.42 L164.93,45.98 L159.02,55.30 L157.82,55.60Z" fill="#000"/>
<path d="M167.17,52.17 L168.91,50.83 L170.69,53.10 L176.53,45.42 L177.35,45.98 L171.44,55.30 L170.24,55.60Z" fill="#000"/>
<path d="M179.59,52.17 L181.33,50.83 L183.11,53.10 L188.95,45.42 L189.77,45.98 L183.86,55.30 L182.66,55.60Z" fill="#000"/>
<path d="M142.33,64.57 L144.07,63.23 L145.85,65.50 L151.69,57.82 L152.51,58.38 L146.60,67.70 L145.40,68.00Z" fill="#000"/>
<path d="M154.75,64.57 L156.49,63.23 L158.27,65.50 L164.11,57.82 L164.93,58.38 L159.02,67.70 L157.82,68.00Z" fill="#000"/>
<path d="M167.17,64.57 L168.91,63.23 L170.69,65.50 L176.53,57.82 L177.35,58.38 L171.44,67.70 L170.24,68.00Z" fill="#000"/>
<path d="M179.59,64.57 L181.33,63.23 L183.11,65.50 L188.95,57.82 L189.77,58.38 L183.86,67.70 L182.66,68.00Z" fill="#000"/>
<path d="M142.33,76.97 L144.07,75.63 L145.85,77.90 L151.69,70.22 L152.51,70.78 L146.60,80.10 L145.40,80.40Z" fill="#000"/>
<path d="M154.75,76.97 L156.49,75.63 L158.27,77.90 L164.11,70.22 L164.93,70.78 L159.02,80.10 L157.82,80.40Z" fill="#000"/>
<path d="M167.17,76.97 L168.91,75.63 L170.69,77.90 L176.53,70.22 L177.35,70.78 L171.44,80.10 L170.24,80.40Z" fill="#000"/>
<path d="M179.59,76.97 L181.33,75.63 L183.11,77.90 L188.95,70.22 L189.77,70.78 L183.86,80.10 L182.66,80.40Z" fill="#000"/>
<path d="M142.33,89.37 L144.07,88.03 L145.85,90.30 L151.69,82.62 L152.51,83.18 L146.60,92.50 L145.40,92.80Z" fill="#000"/>
<path d="M154.75,89.37 L156.49,88.03 L158.27,90.30 L164.11,82.62 L164.93,83.18 L159.02,92.50 L157.82,92.80Z" fill="#000"/>
<path d="M167.17,89.37 L168.91,88.03 L170.69,90.30 L176.53,82.62 L177.35,83.18 L171.44,92.50 L170.24,92.80Z" fill="#000"/>
<path d="M179.59,89.37 L181.33,88.03 L183.11,90.30 L188.95,82.62 L189.77,83.18 L183.86,92.50 L182.66,92.80Z" fill="#000"/>
<path d="M142.33,101.77 L144.07,100.43 L145.85,102.70 L151.69,95.02 L152.51,95.58 L146.60,104.90 L145.40,105.20Z" fill="#000"/>
<path d="M154.75,101.77 L156.49,100.43 L158.27,102.70 L164.11,95.02 L164.93,95.58 L159.02,104.90 L157.82,105.20Z" fill="#000"/>
<path d="M167.17,101.77 L168.91,100.43 L170.69,102.70 L176.53,95.02 L177.35,95.58 L171.44,104.90 L170.24,105.20Z" fill="#000"/>
<path d="M179.59,101.77 L181.33,100.43 L183.11,102.70 L188.95,95.02 L189.77,95.58 L183.86,104.90 L182.66,105.20Z" fill="#000"/>
<path d="M142.33,114.17 L144.07,112.83 L145.85,115.10 L151.69,107.42 L152.51,107.98 L146.60,117.30 L145.40,117.60Z" fill="#000"/>
<path d="M154.75,114.17 L156.49,112.83 L158.27,115.10 L164.11,107.42 L164.93,107.98 L159.02,117.30 L157.82,117.60Z" fill="#000"/>
<path d="M167.17,114.17 L168.91,112.83 L170.69,115.10 L176.53,107.42 L177.35,107.98 L171.44,117.30 L170.24,117.60Z" fill="#000"/>
<path d="M179.59,114.17 L181.33,112.83 L183.11,115.10 L188.95,107.42 L189.77,107.98 L183.86,117.30 L182.66,117.60Z" fill="#000"/>
<path d="M142.33,126.57 L144.07,125.23 L145.85,127.50 L151.69,119.82 L152.51,120.38 L146.60,129.70 L145.40,130.00Z" fill="#000"/>
<path d="M154.75,126.57 L156.49,125.23 L158.27,127.50 L164.11,119.82 L164.93,120.38 L159.02,129.70 L157.82,130.00Z" fill="#000"/>
<path d="M167.17,126.57 L168.91,125.23 L170.69,127.50 L176.53,119.82 L177.35,120.38 L171.44,129.70 L170.24,130.00Z" fill="#000"/>
<path d="M179.59,126.57 L181.33,125.23 L183.11,127.50 L188.95,119.82 L189.77,120.38 L183.86,129.70 L182.66,130.00Z" fill="#000"/>
<path d="M142.33,188.57 L144.07,187.23 L145.85,189.50 L151.69,181.82 L152.51,182.38 L146.60,191.70 L145.40,192.00Z" fill="#000"/>
<path d="M154.75,188.57 L156.49,187.23 L158.27,189.50 L164.11,181.82 L164.93,182.38 L159.02,191.70 L157.82,192.00Z" fill="#000"/>
<path d="M167.17,188.57 L168.91,187.23 L170.69,189.50 L176.53,181.82 L177.35,182.38 L171.44,191.70 L170.24,192.00Z" fill="#000"/>
<rect x="197.80" y="32.40" width="12.42" height="12.4" fill="#fff" stroke="#6a6a6a" stroke-width="0.8"/>
<rect x="210.22" y="32.40" width="12.42" height="12.4" fill="#fff" stroke="#6a6a6a" stroke-width="0.8"/>
<rect x="222.64" y="32.40" width="12.42" height="12.4" fill="#fff" stroke="#6a6a6a" stroke-width="0.8"/>
<rect x="235.06" y="32.40" width="12.42" height="12.4" fill="#fff" stroke="#6a6a6a" stroke-width="0.8"/>
<rect x="197.80" y="44.80" width="12.42" height="12.4" fill="#fff" stroke="#6a6a6a" stroke-width="0.8"/>
<rect x="210.22" y="44.80" width="12.42" height="12.4" fill="#fff" stroke="#6a6a6a" stroke-width="0.8"/>
<rect x="222.64" y="44.80" width="12.42" height="12.4" fill="#fff" stroke="#6a6a6a" stroke-width="0.8"/>
<rect x="235.06" y="44.80" width="12.42" height="12.4" fill="#fff" stroke="#6a6a6a" stroke-width="0.8"/>
<rect x="197.80" y="57.20" width="12.42" height="12.4" fill="#fff" stroke="#6a6a6a" stroke-width="0.8"/>
<rect x="210.22" y="57.20" width="12.42" height="12.4" fill="#fff" stroke="#6a6a6a" stroke-width="0.8"/>
<rect x="222.64" y="57.20" width="12.42" height="12.4" fill="#fff" stroke="#6a6a6a" stroke-width="0.8"/>
<rect x="235.06" y="57.20" width="12.42" height="12.4" fill="#fff" stroke="#6a6a6a" stroke-width="0.8"/>
<rect x="197.80" y="69.60" width="12.42" height="12.4" fill="#fff" stroke="#6a6a6a" stroke-width="0.8"/>
<rect x="210.22" y="69.60" width="12.42" height="12.4" fill="#fff" stroke="#6a6a6a" stroke-width="0.8"/>
<rect x="222.64" y="69.60" width="12.42" height="12.4" fill="#fff" stroke="#6a6a6a" stroke-width="0.8"/>
<rect x="235.06" y="69.60" width="12.42" height="12.4" fill="#fff" stroke="#6a6a6a" stroke-width="0.8"/>
<rect x="197.80" y="82.00" width="12.42" height="12.4" fill="#fff" stroke="#6a6a6a" stroke-width="0.8"/>
<rect x="210.22" y="82.00" width="12.42" height="12.4" fill="#fff" stroke="#6a6a6a" stroke-width="0.8"/>
<rect x="222.64" y="82.00" width="12.42" height="12.4" fill="#fff" stroke="#6a6a6a" stroke-width="0.8"/>
<rect x="235.06" y="82.00" width="12.42" height="12.4" fill="#fff" stroke="#6a6a6a" stroke-width="0.8"/>
<rect x="197.80" y="94.40" width="12.42" height="12.4" fill="#fff" stroke="#6a6a6a" stroke-width="0.8"/>
<rect x="210.22" y="94.40" width="12.42" height="12.4" fill="#fff" stroke="#6a6a6a" stroke-width="0.8"/>
<rect x="222.64" y="94.40" width="12.42" height="12.4" fill="#fff" stroke="#6a6a6a" stroke-width="0.8"/>
<rect x="235.06" y="94.40" width="12.42" height="12.4" fill="#fff" stroke="#6a6a6a" stroke-width="0.8"/>
<rect x="197.80" y="106.80" width="12.42" height="12.4" fill="#fff" stroke="#6a6a6a" stroke-width="0.8"/>
<rect x="210.22" y="106.80" width="12.42" height="12.4" fill="#fff" stroke="#6a6a6a" stroke-width="0.8"/>
<rect x="222.64" y="106.80" width="12.42" height="12.4" fill="#fff" stroke="#6a6a6a" stroke-width="0.8"/>
<rect x="235.06" y="106.80" width="12.42" height="12.4" fill="#fff" stroke="#6a6a6a" stroke-width="0.8"/>
<rect x="197.80" y="119.20" width="12.42" height="12.4" fill="#fff" stroke="#6a6a6a" stroke-width="0.8"/>
<rect x="210.22" y="119.20" width="12.42" height="12.4" fill="#fff" stroke="#6a6a6a" stroke-width="0.8"/>
<rect x="222.64" y="119.20" width="12.42" height="12.4" fill="#fff" stroke="#6a6a6a" stroke-width="0.8"/>
<rect x="235.06" y="119.20" width="12.42" height="12.4" fill="#fff" stroke="#6a6a6a" stroke-width="0.8"/>
<rect x="197.80" y="131.60" width="12.42" height="12.4" fill="#fff" stroke="#6a6a6a" stroke-width="0.8"/>
<rect x="210.22" y="131.60" width="12.42" height="12.4" fill="#fff" stroke="#6a6a6a" stroke-width="0.8"/>
<rect x="222.64" y="131.60" width="12.42" height="12.4" fill="#fff" stroke="#6a6a6a" stroke-width="0.8"/>
<rect x="235.06" y="131.60" width="12.42" height="12.4" fill="#fff" stroke="#6a6a6a" stroke-width="0.8"/>
<rect x="197.80" y="144.00" width="12.42" height="12.4" fill="#fff" stroke="#6a6a6a" stroke-width="0.8"/>
<rect x="210.22" y="144.00" width="12.42" height="12.4" fill="#fff" stroke="#6a6a6a" stroke-width="0.8"/>
<rect x="222.64" y="144.00" width="12.42" height="12.4" fill="#fff" stroke="#6a6a6a" stroke-width="0.8"/>
<rect x="235.06" y="144.00" width="12.42" height="12.4" fill="#fff" stroke="#6a6a6a" stroke-width="0.8"/>
<rect x="197.80" y="156.40" width="12.42" height="12.4" fill="#fff" stroke="#6a6a6a" stroke-width="0.8"/>
<rect x="210.22" y="156.40" width="12.42" height="12.4" fill="#fff" stroke="#6a6a6a" stroke-width="0.8"/>
<rect x="222.64" y="156.40" width="12.42" height="12.4" fill="#fff" stroke="#6a6a6a" stroke-width="0.8"/>
<rect x="235.06" y="156.40" width="12.42" height="12.4" fill="#fff" stroke="#6a6a6a" stroke-width="0.8"/>
<rect x="197.80" y="168.80" width="12.42" height="12.4" fill="#fff" stroke="#6a6a6a" stroke-width="0.8"/>
<rect x="210.22" y="168.80" width="12.42" height="12.4" fill="#fff" stroke="#6a6a6a" stroke-width="0.8"/>
<rect x="222.64" y="168.80" width="12.42" height="12.4" fill="#fff" stroke="#6a6a6a" stroke-width="0.8"/>
<rect x="235.06" y="168.80" width="12.42" height="12.4" fill="#fff" stroke="#6a6a6a" stroke-width="0.8"/>
<rect x="197.80" y="181.20" width="12.42" height="12.4" fill="#fff" stroke="#6a6a6a" stroke-width="0.8"/>
<rect x="210.22" y="181.20" width="12.42" height="12.4" fill="#fff" stroke="#6a6a6a" stroke-width="0.8"/>
<rect x="222.64" y="181.20" width="12.42" height="12.4" fill="#fff" stroke="#6a6a6a" stroke-width="0.8"/>
<rect x="235.06" y="181.20" width="12.42" height="12.4" fill="#fff" stroke="#6a6a6a" stroke-width="0.8"/>
<rect x="197.80" y="193.60" width="12.42" height="12.4" fill="#fff" stroke="#6a6a6a" stroke-width="0.8"/>
<rect x="210.22" y="193.60" width="12.42" height="12.4" fill="#fff" stroke="#6a6a6a" stroke-width="0.8"/>
<rect x="222.64" y="193.60" width="12.42" height="12.4" fill="#fff" stroke="#6a6a6a" stroke-width="0.8"/>
<rect x="235.06" y="193.60" width="12.42" height="12.4" fill="#fff" stroke="#6a6a6a" stroke-width="0.8"/>
<rect x="197.80" y="206.00" width="12.42" height="12.4" fill="#fff" stroke="#6a6a6a" stroke-width="0.8"/>
<rect x="210.22" y="206.00" width="12.42" height="12.4" fill="#fff" stroke="#6a6a6a" stroke-width="0.8"/>
<rect x="222.64" y="206.00" width="12.42" height="12.4" fill="#fff" stroke="#6a6a6a" stroke-width="0.8"/>
<rect x="235.06" y="206.00" width="12.42" height="12.4" fill="#fff" stroke="#6a6a6a" stroke-width="0.8"/>
<rect x="197.80" y="218.40" width="12.42" height="12.4" fill="#fff" stroke="#6a6a6a" stroke-width="0.8"/>
<rect x="210.22" y="218.40" width="12.42" height="12.4" fill="#fff" stroke="#6a6a6a" stroke-width="0.8"/>
<rect x="222.64" y="218.40" width="12.42" height="12.4" fill="#fff" stroke="#6a6a6a" stroke-width="0.8"/>
<rect x="235.06" y="218.40" width="12.42" height="12.4" fill="#fff" stroke="#6a6a6a" stroke-width="0.8"/>
<rect x="197.80" y="230.80" width="12.42" height="12.4" fill="#fff" stroke="#6a6a6a" stroke-width="0.8"/>
<rect x="210.22" y="230.80" width="12.42" height="12.4" fill="#fff" stroke="#6a6a6a" stroke-width="0.8"/>
<rect x="222.64" y="230.80" width="12.42" height="12.4" fill="#fff" stroke="#6a6a6a" stroke-width="0.8"/>
<rect x="235.06" y="230.80" width="12.42" height="12.4" fill="#fff" stroke="#6a6a6a" stroke-width="0.8"/>
<path d="M198.83,39.77 L200.57,38.43 L202.35,40.70 L208.19,33.02 L209.01,33.58 L203.10,42.90 L201.90,43.20Z" fill="#000"/>
<path d="M211.25,39.77 L212.99,38.43 L214.77,40.70 L220.61,33.02 L221.43,33.58 L215.52,42.90 L214.32,43.20Z" fill="#000"/>
<path d="M223.67,39.77 L225.41,38.43 L227.19,40.70 L233.03,33.02 L233.85,33.58 L227.94,42.90 L226.74,43.20Z" fill="#000"/>
<path d="M236.09,39.77 L237.83,38.43 L239.61,40.70 L245.45,33.02 L246.27,33.58 L240.36,42.90 L239.16,43.20Z" fill="#000"/>
<path d="M198.83,52.17 L200.57,50.83 L202.35,53.10 L208.19,45.42 L209.01,45.98 L203.10,55.30 L201.90,55.60Z" fill="#000"/>
<path d="M211.25,52.17 L212.99,50.83 L214.77,53.10 L220.61,45.42 L221.43,45.98 L215.52,55.30 L214.32,55.60Z" fill="#000"/>
<path d="M223.67,52.17 L225.41,50.83 L227.19,53.10 L233.03,45.42 L233.85,45.98 L227.94,55.30 L226.74,55.60Z" fill="#000"/>
<path d="M236.09,52.17 L237.83,50.83 L239.61,53.10 L245.45,45.42 L246.27,45.98 L240.36,55.30 L239.16,55.60Z" fill="#000"/>
<path d="M198.83,64.57 L200.57,63.23 L202.35,65.50 L208.19,57.82 L209.01,58.38 L203.10,67.70 L201.90,68.00Z" fill="#000"/>
<path d="M211.25,64.57 L212.99,63.23 L214.77,65.50 L220.61,57.82 L221.43,58.38 L215.52,67.70 L214.32,68.00Z" fill="#000"/>
<path d="M223.67,64.57 L225.41,63.23 L227.19,65.50 L233.03,57.82 L233.85,58.38 L227.94,67.70 L226.74,68.00Z" fill="#000"/>
<path d="M236.09,64.57 L237.83,63.23 L239.61,65.50 L245.45,57.82 L246.27,58.38 L240.36,67.70 L239.16,68.00Z" fill="#000"/>
<path d="M198.83,76.97 L200.57,75.63 L202.35,77.90 L208.19,70.22 L209.01,70.78 L203.10,80.10 L201.90,80.40Z" fill="#000"/>
<path d="M211.25,76.97 L212.99,75.63 L214.77,77.90 L220.61,70.22 L221.43,70.78 L215.52,80.10 L214.32,80.40Z" fill="#000"/>
<path d="M223.67,76.97 L225.41,75.63 L227.19,77.90 L233.03,70.22 L233.85,70.78 L227.94,80.10 L226.74,80.40Z" fill="#000"/>
<path d="M236.09,76.97 L237.83,75.63 L239.61,77.90 L245.45,70.22 L246.27,70.78 L240.36,80.10 L239.16,80.40Z" fill="#000"/>
<path d="M198.83,89.37 L200.57,88.03 L202.35,90.30 L208.19,82.62 L209.01,83.18 L203.10,92.50 L201.90,92.80Z" fill="#000"/>
<path d="M211.25,89.37 L212.99,88.03 L214.77,90.30 L220.61,82.62 L221.43,83.18 L215.52,92.50 L214.32,92.80Z" fill="#000"/>
<path d="M223.67,89.37 L225.41,88.03 L227.19,90.30 L233.03,82.62 L233.85,83.18 L227.94,92.50 L226.74,92.80Z" fill="#000"/>
<path d="M236.09,89.37 L237.83,88.03 L239.61,90.30 L245.45,82.62 L246.27,83.18 L240.36,92.50 L239.16,92.80Z" fill="#000"/>
<path d="M198.83,101.77 L200.57,100.43 L202.35,102.70 L208.19,95.02 L209.01,95.58 L203.10,104.90 L201.90,105.20Z" fill="#000"/>
<path d="M211.25,101.77 L212.99,100.43 L214.77,102.70 L220.61,95.02 L221.43,95.58 L215.52,104.90 L214.32,105.20Z" fill="#000"/>
<path d="M223.67,101.77 L225.41,100.43 L227.19,102.70 L233.03,95.02 L233.85,95.58 L227.94,104.90 L226.74,105.20Z" fill="#000"/>
<path d="M236.09,101.77 L237.83,100.43 L239.61,102.70 L245.45,95.02 L246.27,95.58 L240.36,104.90 L239.16,105.20Z" fill="#000"/>
<path d="M198.83,114.17 L200.57,112.83 L202.35,115.10 L208.19,107.42 L209.01,107.98 L203.10,117.30 L201.90,117.60Z" fill="#000"/>
<path d="M211.25,114.17 L212.99,112.83 L214.77,115.10 L220.61,107.42 L221.43,107.98 L215.52,117.30 L214.32,117.60Z" fill="#000"/>
<path d="M223.67,114.17 L225.41,112.83 L227.19,115.10 L233.03,107.42 L233.85,107.98 L227.94,117.30 L226.74,117.60Z" fill="#000"/>
<path d="M236.09,114.17 L237.83,112.83 L239.61,115.10 L245.45,107.42 L246.27,107.98 L240.36,117.30 L239.16,117.60Z" fill="#000"/>
<path d="M198.83,126.57 L200.57,125.23 L202.35,127.50 L208.19,119.82 L209.01,120.38 L203.10,129.70 L201.90,130.00Z" fill="#000"/>
<path d="M211.25,126.57 L212.99,125.23 L214.77,127.50 L220.61,119.82 L221.43,120.38 L215.52,129.70 L214.32,130.00Z" fill="#000"/>
<path d="M223.67,126.57 L225.41,125.23 L227.19,127.50 L233.03,119.82 L233.85,120.38 L227.94,129.70 L226.74,130.00Z" fill="#000"/>
<path d="M198.83,163.77 L200.57,162.43 L202.35,164.70 L208.19,157.02 L209.01,157.58 L203.10,166.90 L201.90,167.20Z" fill="#000"/>
<path d="M211.25,163.77 L212.99,162.43 L214.77,164.70 L220.61,157.02 L221.43,157.58 L215.52,166.90 L214.32,167.20Z" fill="#000"/>
<path d="M223.67,163.77 L225.41,162.43 L227.19,164.70 L233.03,157.02 L233.85,157.58 L227.94,166.90 L226.74,167.20Z" fill="#000"/>
<path d="M236.09,163.77 L237.83,162.43 L239.61,164.70 L245.45,157.02 L246.27,157.58 L240.36,166.90 L239.16,167.20Z" fill="#000"/>
<path d="M198.83,176.17 L200.57,174.83 L202.35,177.10 L208.19,169.42 L209.01,169.98 L203.10,179.30 L201.90,179.60Z" fill="#000"/>
<path d="M211.25,176.17 L212.99,174.83 L214.77,177.10 L220.61,169.42 L221.43,169.98 L215.52,179.30 L214.32,179.60Z" fill="#000"/>
<path d="M223.67,176.17 L225.41,174.83 L227.19,177.10 L233.03,169.42 L233.85,169.98 L227.94,179.30 L226.74,179.60Z" fill="#000"/>
<path d="M236.09,176.17 L237.83,174.83 L239.61,177.10 L245.45,169.42 L246.27,169.98 L240.36,179.30 L239.16,179.60Z" fill="#000"/>
<path d="M198.83,188.57 L200.57,187.23 L202.35,189.50 L208.19,181.82 L209.01,182.38 L203.10,191.70 L201.90,192.00Z" fill="#000"/>
<path d="M211.25,188.57 L212.99,187.23 L214.77,189.50 L220.61,181.82 L221.43,182.38 L215.52,191.70 L214.32,192.00Z" fill="#000"/>
<path d="M223.67,188.57 L225.41,187.23 L227.19,189.50 L233.03,181.82 L233.85,182.38 L227.94,191.70 L226.74,192.00Z" fill="#000"/>
<path d="M236.09,188.57 L237.83,187.23 L239.61,189.50 L245.45,181.82 L246.27,182.38 L240.36,191.70 L239.16,192.00Z" fill="#000"/>
<rect x="254.3" y="32.40" width="12.40" height="12.4" fill="#dc8dbb" stroke="#333" stroke-width="0.8"/>
<rect x="254.3" y="44.80" width="12.40" height="12.4" fill="#dc8dbb" stroke="#333" stroke-width="0.8"/>
<rect x="254.3" y="57.20" width="12.40" height="12.4" fill="#dc8dbb" stroke="#333" stroke-width="0.8"/>
<rect x="254.3" y="69.60" width="12.40" height="12.4" fill="#dc8dbb" stroke="#333" stroke-width="0.8"/>
<rect x="254.3" y="82.00" width="12.40" height="12.4" fill="#dc8dbb" stroke="#333" stroke-width="0.8"/>
<rect x="254.3" y="94.40" width="12.40" height="12.4" fill="#18aac6" stroke="#333" stroke-width="0.8"/>
<rect x="254.3" y="106.80" width="12.40" height="12.4" fill="#18aac6" stroke="#333" stroke-width="0.8"/>
<rect x="254.3" y="119.20" width="12.40" height="12.4" fill="#18aac6" stroke="#333" stroke-width="0.8"/>
<rect x="254.3" y="131.60" width="12.40" height="12.4" fill="#18aac6" stroke="#333" stroke-width="0.8"/>
<rect x="254.3" y="144.00" width="12.40" height="12.4" fill="#f7b86c" stroke="#333" stroke-width="0.8"/>
<rect x="254.3" y="156.40" width="12.40" height="12.4" fill="#f7b86c" stroke="#333" stroke-width="0.8"/>
<rect x="254.3" y="168.80" width="12.40" height="12.4" fill="#f7b86c" stroke="#333" stroke-width="0.8"/>
<rect x="254.3" y="181.20" width="12.40" height="12.4" fill="#dc8dbb" stroke="#333" stroke-width="0.8"/>
<rect x="254.3" y="193.60" width="12.40" height="12.4" fill="#18aac6" stroke="#333" stroke-width="0.8"/>
<rect x="254.3" y="206.00" width="12.40" height="12.4" fill="#18aac6" stroke="#333" stroke-width="0.8"/>
<rect x="254.3" y="218.40" width="12.40" height="12.4" fill="#18aac6" stroke="#333" stroke-width="0.8"/>
<rect x="254.3" y="230.80" width="12.40" height="12.4" fill="#18aac6" stroke="#333" stroke-width="0.8"/>
<rect x="273.2" y="32.40" width="12.80" height="12.4" fill="#f0b4d6" stroke="#555" stroke-width="0.8"/>
<path d="M279.6,36.08 L282.12,38.6 L279.6,41.120000000000005 L277.08000000000004,38.6Z" fill="none" stroke="#111" stroke-width="1.3"/>
<rect x="273.2" y="44.80" width="12.80" height="12.4" fill="#f0b4d6" stroke="#555" stroke-width="0.8"/>
<path d="M279.6,48.48 L282.12,51.0 L279.6,53.52 L277.08000000000004,51.0Z" fill="none" stroke="#111" stroke-width="1.3"/>
<rect x="273.2" y="57.20" width="12.80" height="12.4" fill="#f0b4d6" stroke="#555" stroke-width="0.8"/>
<path d="M279.6,60.88 L282.12,63.400000000000006 L279.6,65.92 L277.08000000000004,63.400000000000006Z" fill="none" stroke="#111" stroke-width="1.3"/>
<rect x="273.2" y="69.60" width="12.80" height="12.4" fill="#f0b4d6" stroke="#555" stroke-width="0.8"/>
<path d="M279.6,73.28 L282.12,75.8 L279.6,78.32 L277.08000000000004,75.8Z" fill="none" stroke="#111" stroke-width="1.3"/>
<rect x="273.2" y="82.00" width="12.80" height="12.4" fill="#f0b4d6" stroke="#555" stroke-width="0.8"/>
<path d="M279.6,85.68 L282.12,88.2 L279.6,90.72 L277.08000000000004,88.2Z" fill="none" stroke="#111" stroke-width="1.3"/>
<rect x="273.2" y="94.40" width="12.80" height="12.4" fill="#2e93e4" stroke="#555" stroke-width="0.8"/>
<circle cx="279.6" cy="100.60000000000001" r="1.9949999999999999" fill="none" stroke="#111" stroke-width="1.3"/>
<rect x="273.2" y="106.80" width="12.80" height="12.4" fill="#a9d9f3" stroke="#555" stroke-width="0.8"/>
<path d="M279.6,110.27000000000001 L282.33000000000004,115.04750000000001 L276.87,115.04750000000001Z" fill="none" stroke="#111" stroke-width="1.3"/>
<rect x="273.2" y="119.20" width="12.80" height="12.4" fill="#daf3f8" stroke="#555" stroke-width="0.8"/>
<path d="M279.6,128.13 L282.33000000000004,123.35249999999999 L276.87,123.35249999999999Z" fill="none" stroke="#111" stroke-width="1.3"/>
<rect x="273.2" y="131.60" width="12.80" height="12.4" fill="#daf3f8" stroke="#555" stroke-width="0.8"/>
<path d="M279.6,140.52999999999997 L282.33000000000004,135.75249999999997 L276.87,135.75249999999997Z" fill="none" stroke="#111" stroke-width="1.3"/>
<rect x="273.2" y="144.00" width="12.80" height="12.4" fill="#f7b86c" stroke="#555" stroke-width="0.8"/>
<circle cx="279.6" cy="150.2" r="1.9949999999999999" fill="none" stroke="#111" stroke-width="1.3"/>
<rect x="273.2" y="156.40" width="12.80" height="12.4" fill="#f7b86c" stroke="#555" stroke-width="0.8"/>
<circle cx="279.6" cy="162.6" r="1.9949999999999999" fill="none" stroke="#111" stroke-width="1.3"/>
<rect x="273.2" y="168.80" width="12.80" height="12.4" fill="#fbd8b0" stroke="#555" stroke-width="0.8"/>
<rect x="277.71000000000004" y="173.11" width="3.7800000000000002" height="3.7800000000000002" fill="none" stroke="#111" stroke-width="1.3"/>
<rect x="273.2" y="181.20" width="12.80" height="12.4" fill="#f5cfe4" stroke="#555" stroke-width="0.8"/>
<path d="M279.6,184.67000000000002 L282.33000000000004,189.44750000000002 L276.87,189.44750000000002Z" fill="none" stroke="#111" stroke-width="1.3"/>
<rect x="273.2" y="193.60" width="12.80" height="12.4" fill="#3cb5c6" stroke="#555" stroke-width="0.8"/>
<path d="M279.6,202.53 L282.33000000000004,197.7525 L276.87,197.7525Z" fill="none" stroke="#111" stroke-width="1.3"/>
<rect x="273.2" y="206.00" width="12.80" height="12.4" fill="#3cb5c6" stroke="#555" stroke-width="0.8"/>
<rect x="277.71000000000004" y="210.31" width="3.7800000000000002" height="3.7800000000000002" fill="none" stroke="#111" stroke-width="1.3"/>
<rect x="273.2" y="218.40" width="12.80" height="12.4" fill="#72c0f0" stroke="#555" stroke-width="0.8"/>
<path d="M279.6,222.07999999999998 L282.12,224.6 L279.6,227.12 L277.08000000000004,224.6Z" fill="none" stroke="#111" stroke-width="1.3"/>
<rect x="273.2" y="230.80" width="12.80" height="12.4" fill="#72c0f0" stroke="#555" stroke-width="0.8"/>
<path d="M279.6,234.48 L282.12,237.0 L279.6,239.52 L277.08000000000004,237.0Z" fill="none" stroke="#111" stroke-width="1.3"/>
<text x="35.4" y="40.80" text-anchor="end" style="font-size:7.2px" fill="#222">RWi2</text>
<text x="35.4" y="53.20" text-anchor="end" style="font-size:7.2px" fill="#222">G4i57</text>
<text x="35.4" y="65.60" text-anchor="end" style="font-size:7.2px" fill="#222">G4i09</text>
<text x="35.4" y="78.00" text-anchor="end" style="font-size:7.2px" fill="#222">G4i52</text>
<text x="35.4" y="90.40" text-anchor="end" style="font-size:7.2px" fill="#222">DSS-3</text>
<text x="35.4" y="102.80" text-anchor="end" style="font-size:7.2px" fill="#222">OBi1</text>
<text x="35.4" y="115.20" text-anchor="end" style="font-size:7.2px" fill="#222">G4i12</text>
<text x="35.4" y="127.60" text-anchor="end" style="font-size:7.2px" fill="#222">PSi23</text>
<text x="35.4" y="140.00" text-anchor="end" style="font-size:7.2px" fill="#222">PSi01</text>
<text x="35.4" y="152.40" text-anchor="end" style="font-size:7.2px" fill="#222">PSi08</text>
<text x="35.4" y="164.80" text-anchor="end" style="font-size:7.2px" fill="#222">PSi16</text>
<text x="35.4" y="177.20" text-anchor="end" style="font-size:7.2px" fill="#222">PSi06</text>
<text x="35.4" y="189.60" text-anchor="end" style="font-size:7.2px" fill="#222">G4i25</text>
<text x="35.4" y="202.00" text-anchor="end" style="font-size:7.2px" fill="#222">G4i21</text>
<text x="35.4" y="214.40" text-anchor="end" style="font-size:7.2px" fill="#222">PSi21</text>
<text x="35.4" y="226.80" text-anchor="end" style="font-size:7.2px" fill="#222">RWi3</text>
<text x="35.4" y="239.20" text-anchor="end" style="font-size:7.2px" fill="#222">PSi26</text>
<text transform="translate(9.2,137.6) rotate(-90)" text-anchor="middle" style="font-size:9.3px" fill="#222">Isolate</text>
<text transform="translate(49.45,250.6) rotate(-45)" text-anchor="end" style="font-size:7.6px" fill="#222">Growth</text>
<text transform="translate(69.01,250.6) rotate(-45)" text-anchor="end" style="font-style:italic;font-size:7.6px" fill="#222">homA</text>
<text transform="translate(81.43,250.6) rotate(-45)" text-anchor="end" style="font-style:italic;font-size:7.6px" fill="#222">homB</text>
<text transform="translate(93.85,250.6) rotate(-45)" text-anchor="end" style="font-style:italic;font-size:7.6px" fill="#222">homC</text>
<text transform="translate(106.27,250.6) rotate(-45)" text-anchor="end" style="font-style:italic;font-size:7.6px" fill="#222">homD</text>
<text transform="translate(118.69,250.6) rotate(-45)" text-anchor="end" style="font-style:italic;font-size:7.6px" fill="#222">homE</text>
<text transform="translate(131.11,250.6) rotate(-45)" text-anchor="end" style="font-style:italic;font-size:7.6px" fill="#222">homR</text>
<text transform="translate(150.11,250.6) rotate(-45)" text-anchor="end" style="font-style:italic;font-size:7.6px" fill="#222">mgdA</text>
<text transform="translate(162.53,250.6) rotate(-45)" text-anchor="end" style="font-style:italic;font-size:7.6px" fill="#222">mgdB</text>
<text transform="translate(174.95,250.6) rotate(-45)" text-anchor="end" style="font-style:italic;font-size:7.6px" fill="#222">mgdC</text>
<text transform="translate(187.37,250.6) rotate(-45)" text-anchor="end" style="font-style:italic;font-size:7.6px" fill="#222">mgdD</text>
<text transform="translate(206.61,250.6) rotate(-45)" text-anchor="end" style="font-style:italic;font-size:7.6px" fill="#222">soxA</text>
<text transform="translate(219.03,250.6) rotate(-45)" text-anchor="end" style="font-style:italic;font-size:7.6px" fill="#222">soxB</text>
<text transform="translate(231.45,250.6) rotate(-45)" text-anchor="end" style="font-style:italic;font-size:7.6px" fill="#222">soxD</text>
<text transform="translate(243.87,250.6) rotate(-45)" text-anchor="end" style="font-style:italic;font-size:7.6px" fill="#222">soxG</text>
<text transform="translate(263.10,250.6) rotate(-45)" text-anchor="end" style="font-size:7.6px" fill="#222">Class</text>
<text transform="translate(282.20,250.6) rotate(-45)" text-anchor="end" style="font-size:7.6px" fill="#222">Family</text>
<text x="2.2" y="307" style="font-size:8.6px" fill="#222">Class</text>
<rect x="1.5" y="313.4" width="8.4" height="8.4" fill="#f7b86c" stroke="#555" stroke-width="0.6"/>
<text x="14.2" y="319.0" style="font-size:7.75px;letter-spacing:0.06px" fill="#222">Actinomycetota</text>
<rect x="1.5" y="328.4" width="8.4" height="8.4" fill="#dc8dbb" stroke="#555" stroke-width="0.6"/>
<text x="14.2" y="334.0" style="font-size:7.75px;letter-spacing:0.06px" fill="#222">Alphaproteobacteria</text>
<rect x="1.5" y="344.3" width="8.4" height="8.4" fill="#18aac6" stroke="#555" stroke-width="0.6"/>
<text x="14.2" y="349.9" style="font-size:7.75px;letter-spacing:0.06px" fill="#222">Gammaproteobacteria</text>
<text x="106" y="307.5" style="font-size:8.7px" fill="#222">Family</text>
<rect x="104.3" y="314.2" width="8.6" height="8.4" fill="#f7b86c" stroke="#555" stroke-width="0.6"/>
<circle cx="108.6" cy="318.4" r="1.615" fill="none" stroke="#111" stroke-width="1.3"/>
<text x="117.7" y="320.8" style="font-size:7.5px" fill="#222">Micrococcales</text>
<rect x="104.3" y="329.9" width="8.6" height="8.4" fill="#fbd8b0" stroke="#555" stroke-width="0.6"/>
<rect x="107.07" y="332.57" width="3.06" height="3.06" fill="none" stroke="#111" stroke-width="1.3"/>
<text x="117.7" y="336.5" style="font-size:7.5px" fill="#222">Mycobacteriales</text>
<rect x="104.3" y="345.4" width="8.6" height="8.4" fill="#f0b4d6" stroke="#555" stroke-width="0.6"/>
<path d="M108.6,347.55999999999995 L110.64,349.59999999999997 L108.6,351.64 L106.55999999999999,349.59999999999997Z" fill="none" stroke="#111" stroke-width="1.3"/>
<text x="117.7" y="352.0" style="font-size:7.5px" fill="#222">Roseobacteraceae</text>
<rect x="104.3" y="359.4" width="8.6" height="8.4" fill="#f5cfe4" stroke="#555" stroke-width="0.6"/>
<path d="M108.6,361.39 L110.80999999999999,365.2575 L106.39,365.2575Z" fill="none" stroke="#111" stroke-width="1.3"/>
<text x="117.7" y="366.0" style="font-size:7.5px" fill="#222">Phyllobacteriaceae</text>
<rect x="104.3" y="373.2" width="8.6" height="8.4" fill="#3cb5c6" stroke="#555" stroke-width="0.6"/>
<path d="M108.6,379.60999999999996 L110.80999999999999,375.74249999999995 L106.39,375.74249999999995Z" fill="none" stroke="#111" stroke-width="1.3"/>
<text x="117.7" y="379.8" style="font-size:7.5px" fill="#222">Alteromonadaceae</text>
<rect x="197.1" y="313.9" width="8.6" height="8.4" fill="#2e93e4" stroke="#555" stroke-width="0.6"/>
<circle cx="201.4" cy="318.09999999999997" r="1.615" fill="none" stroke="#111" stroke-width="1.3"/>
<text x="209.8" y="320.5" style="font-size:7.5px" fill="#222">Halomonadaceae</text>
<rect x="197.1" y="329.7" width="8.6" height="8.4" fill="#3cb5c6" stroke="#555" stroke-width="0.6"/>
<rect x="199.87" y="332.37" width="3.06" height="3.06" fill="none" stroke="#111" stroke-width="1.3"/>
<text x="209.8" y="336.3" style="font-size:7.5px" fill="#222">Moraxellaceae</text>
<rect x="197.1" y="345.6" width="8.6" height="8.4" fill="#72c0f0" stroke="#555" stroke-width="0.6"/>
<path d="M201.4,347.76 L203.44,349.8 L201.4,351.84000000000003 L199.36,349.8Z" fill="none" stroke="#111" stroke-width="1.3"/>
<text x="209.8" y="352.2" style="font-size:7.5px" fill="#222">Pseudoalteromonadaceae</text>
<rect x="197.1" y="360.0" width="8.6" height="8.4" fill="#a9d9f3" stroke="#555" stroke-width="0.6"/>
<path d="M201.4,361.99 L203.61,365.8575 L199.19,365.8575Z" fill="none" stroke="#111" stroke-width="1.3"/>
<text x="209.8" y="366.6" style="font-size:7.5px" fill="#222">Pseudomonadaceae</text>
<rect x="197.1" y="373.7" width="8.6" height="8.4" fill="#daf3f8" stroke="#555" stroke-width="0.6"/>
<path d="M201.4,380.10999999999996 L203.61,376.24249999999995 L199.19,376.24249999999995Z" fill="none" stroke="#111" stroke-width="1.3"/>
<text x="209.8" y="380.3" style="font-size:7.5px" fill="#222">Vibrionaceae</text>
<text x="331.3" y="9.1" style="font-weight:bold;font-size:12.3px" stroke="#000" stroke-width="0.45">b</text>
<path d="M484.96,17.36 A59.7,59.7 0 0 1 474.42,135.48 L473.58,105.39 A29.6,29.6 0 0 0 478.80,46.83 Z" fill="#5cc5da" stroke="#1a1a1a" stroke-width="0.55" stroke-linejoin="round"/>
<path d="M474.42,135.48 A59.7,59.7 0 0 1 429.95,117.42 L451.53,96.44 A29.6,29.6 0 0 0 473.58,105.39 Z" fill="#5cc5da" stroke="#1a1a1a" stroke-width="0.55" stroke-linejoin="round"/>
<path d="M429.95,117.42 A59.7,59.7 0 0 1 421.58,106.55 L447.38,91.05 A29.6,29.6 0 0 0 451.53,96.44 Z" fill="#5cc5da" stroke="#1a1a1a" stroke-width="0.55" stroke-linejoin="round"/>
<path d="M421.58,106.55 A59.7,59.7 0 0 1 419.46,102.72 L446.33,89.15 A29.6,29.6 0 0 0 447.38,91.05 Z" fill="#5cc5da" stroke="#1a1a1a" stroke-width="0.55" stroke-linejoin="round"/>
<path d="M419.46,102.72 A59.7,59.7 0 0 1 417.80,99.13 L445.50,87.37 A29.6,29.6 0 0 0 446.33,89.15 Z" fill="#5cc5da" stroke="#1a1a1a" stroke-width="0.55" stroke-linejoin="round"/>
<path d="M417.80,99.13 A59.7,59.7 0 0 1 416.54,95.92 L444.88,85.78 A29.6,29.6 0 0 0 445.50,87.37 Z" fill="#5cc5da" stroke="#1a1a1a" stroke-width="0.55" stroke-linejoin="round"/>
<path d="M416.54,95.92 A59.7,59.7 0 0 1 415.39,92.36 L444.31,84.01 A29.6,29.6 0 0 0 444.88,85.78 Z" fill="#5cc5da" stroke="#1a1a1a" stroke-width="0.55" stroke-linejoin="round"/>
<path d="M415.39,92.36 A59.7,59.7 0 0 1 414.29,87.91 L443.77,81.80 A29.6,29.6 0 0 0 444.31,84.01 Z" fill="#5cc5da" stroke="#1a1a1a" stroke-width="0.55" stroke-linejoin="round"/>
<path d="M414.29,87.91 A59.7,59.7 0 0 1 413.98,86.27 L443.61,80.99 A29.6,29.6 0 0 0 443.77,81.80 Z" fill="#5cc5da" stroke="#1a1a1a" stroke-width="0.55" stroke-linejoin="round"/>
<path d="M413.98,86.27 A59.7,59.7 0 0 1 413.87,85.65 L443.56,80.69 A29.6,29.6 0 0 0 443.61,80.99 Z" fill="#222" stroke="#1a1a1a" stroke-width="0.55" stroke-linejoin="round"/>
<path d="M413.87,85.65 A59.7,59.7 0 0 1 413.77,85.04 L443.51,80.38 A29.6,29.6 0 0 0 443.56,80.69 Z" fill="#222" stroke="#1a1a1a" stroke-width="0.55" stroke-linejoin="round"/>
<path d="M413.77,85.04 A59.7,59.7 0 0 1 413.66,84.31 L443.45,80.02 A29.6,29.6 0 0 0 443.51,80.38 Z" fill="#222" stroke="#1a1a1a" stroke-width="0.55" stroke-linejoin="round"/>
<path d="M413.66,84.31 A59.7,59.7 0 0 1 413.38,82.04 L443.31,78.89 A29.6,29.6 0 0 0 443.45,80.02 Z" fill="#76b07a" stroke="#1a1a1a" stroke-width="0.55" stroke-linejoin="round"/>
<path d="M413.38,82.04 A59.7,59.7 0 0 1 449.81,20.68 L461.37,48.47 A29.6,29.6 0 0 0 443.31,78.89 Z" fill="#e6b1d0" stroke="#1a1a1a" stroke-width="0.55" stroke-linejoin="round"/>
<path d="M449.81,20.68 A59.7,59.7 0 0 1 461.97,17.08 L467.41,46.69 A29.6,29.6 0 0 0 461.37,48.47 Z" fill="#e6b1d0" stroke="#1a1a1a" stroke-width="0.55" stroke-linejoin="round"/>
<path d="M461.97,17.08 A59.7,59.7 0 0 1 464.85,16.62 L468.84,46.46 A29.6,29.6 0 0 0 467.41,46.69 Z" fill="#e6b1d0" stroke="#1a1a1a" stroke-width="0.55" stroke-linejoin="round"/>
<path d="M464.85,16.62 A59.7,59.7 0 0 1 467.44,16.34 L470.12,46.32 A29.6,29.6 0 0 0 468.84,46.46 Z" fill="#e6b1d0" stroke="#1a1a1a" stroke-width="0.55" stroke-linejoin="round"/>
<path d="M467.44,16.34 A59.7,59.7 0 0 1 470.04,16.16 L471.41,46.23 A29.6,29.6 0 0 0 470.12,46.32 Z" fill="#e6b1d0" stroke="#1a1a1a" stroke-width="0.55" stroke-linejoin="round"/>
<path d="M470.04,16.16 A59.7,59.7 0 0 1 473.27,16.10 L473.01,46.20 A29.6,29.6 0 0 0 471.41,46.23 Z" fill="#1a1a1a" stroke="#1a1a1a" stroke-width="0.55" stroke-linejoin="round"/>
<path d="M473.27,16.10 A59.7,59.7 0 0 1 475.04,16.14 L473.89,46.22 A29.6,29.6 0 0 0 473.01,46.20 Z" fill="#d2d2d2" stroke="#1a1a1a" stroke-width="0.55" stroke-linejoin="round"/>
<path d="M475.04,16.14 A59.7,59.7 0 0 1 475.67,16.17 L474.20,46.24 A29.6,29.6 0 0 0 473.89,46.22 Z" fill="#333" stroke="#1a1a1a" stroke-width="0.55" stroke-linejoin="round"/>
<path d="M475.67,16.17 A59.7,59.7 0 0 1 478.58,16.38 L475.64,46.34 A29.6,29.6 0 0 0 474.20,46.24 Z" fill="#fff" stroke="#1a1a1a" stroke-width="0.55" stroke-linejoin="round"/>
<path d="M478.58,16.38 A59.7,59.7 0 0 1 479.40,16.47 L476.05,46.38 A29.6,29.6 0 0 0 475.64,46.34 Z" fill="#2e2e2e" stroke="#1a1a1a" stroke-width="0.55" stroke-linejoin="round"/>
<path d="M479.40,16.47 A59.7,59.7 0 0 1 480.23,16.57 L476.46,46.43 A29.6,29.6 0 0 0 476.05,46.38 Z" fill="#8a8a8a" stroke="#1a1a1a" stroke-width="0.55" stroke-linejoin="round"/>
<path d="M480.23,16.57 A59.7,59.7 0 0 1 481.06,16.68 L476.87,46.49 A29.6,29.6 0 0 0 476.46,46.43 Z" fill="#2e2e2e" stroke="#1a1a1a" stroke-width="0.55" stroke-linejoin="round"/>
<path d="M481.06,16.68 A59.7,59.7 0 0 1 481.88,16.80 L477.28,46.55 A29.6,29.6 0 0 0 476.87,46.49 Z" fill="#8a8a8a" stroke="#1a1a1a" stroke-width="0.55" stroke-linejoin="round"/>
<path d="M481.88,16.80 A59.7,59.7 0 0 1 482.71,16.94 L477.69,46.61 A29.6,29.6 0 0 0 477.28,46.55 Z" fill="#2e2e2e" stroke="#1a1a1a" stroke-width="0.55" stroke-linejoin="round"/>
<path d="M482.71,16.94 A59.7,59.7 0 0 1 483.53,17.08 L478.09,46.69 A29.6,29.6 0 0 0 477.69,46.61 Z" fill="#8a8a8a" stroke="#1a1a1a" stroke-width="0.55" stroke-linejoin="round"/>
<path d="M483.53,17.08 A59.7,59.7 0 0 1 484.24,17.22 L478.45,46.75 A29.6,29.6 0 0 0 478.09,46.69 Z" fill="#2e2e2e" stroke="#1a1a1a" stroke-width="0.55" stroke-linejoin="round"/>
<path d="M484.24,17.22 A59.7,59.7 0 0 1 484.96,17.36 L478.80,46.83 A29.6,29.6 0 0 0 478.45,46.75 Z" fill="#8a8a8a" stroke="#1a1a1a" stroke-width="0.55" stroke-linejoin="round"/>
<path d="M472.75,75.80 L478.85,46.84 A29.6,29.6 0 1 1 443.50,80.33 Z" fill="#17abc8" stroke="#1a1a1a" stroke-width="0.55" stroke-linejoin="round"/>
<path d="M472.75,75.80 L443.50,80.33 A29.6,29.6 0 0 1 443.45,79.97 Z" fill="#76b07a" stroke="#1a1a1a" stroke-width="0.55" stroke-linejoin="round"/>
<path d="M472.75,75.80 L443.45,79.97 A29.6,29.6 0 0 1 472.65,46.20 Z" fill="#db8cb9" stroke="#1a1a1a" stroke-width="0.55" stroke-linejoin="round"/>
<path d="M472.75,75.80 L472.65,46.20 A29.6,29.6 0 0 1 478.85,46.84 Z" fill="#ffffff" stroke="#1a1a1a" stroke-width="0.55" stroke-linejoin="round"/>
<text x="406.7" y="13.5" style="font-size:6.25px" fill="#222">Pelagibacterales</text>
<text x="465.1" y="12.3" style="font-size:6.25px" fill="#222">Hyphomicrobiales</text>
<text x="369.8" y="38.1" style="font-size:6.25px" fill="#222">Rhodobacterales</text>
<text x="411" y="103.3" text-anchor="end" style="font-size:6.25px" fill="#222">Cellvibrionales</text>
<text x="413.7" y="109.7" text-anchor="end" style="font-size:6.25px" fill="#222">Moraxellales</text>
<text x="419.2" y="116.8" text-anchor="end" style="font-size:6.25px" fill="#222">Oceanospirillales</text>
<text x="481.7" y="110.4" style="font-size:6.4px" fill="#222">Vibrionales</text>
<text x="437.7" y="116.4" style="font-size:6.1px" fill="#222">Pseudonada</text>
<text x="438.2" y="122.6" style="font-size:6.1px" fill="#222">-les</text>
<path d="M414.2,100.6 L416.6,99.8 M416.5,107.1 L419.5,105.2 M421.2,113.8 L424.2,112.0 M455.3,17.4 L455.8,14.2 M463.2,16.8 L463.7,13.9 M420.2,40.0 L423.6,41.6" stroke="#333" stroke-width="0.5" fill="none"/>
<rect x="551.5" y="52.7" width="8.4" height="8.2" fill="#e08dc0" stroke="#555" stroke-width="0.6"/>
<text x="563.9" y="59.0" style="font-size:7.75px;letter-spacing:0.05px" fill="#222">Alphaproteobacteria</text>
<rect x="551.5" y="66.5" width="8.4" height="8.2" fill="#6fae6f" stroke="#555" stroke-width="0.6"/>
<text x="563.9" y="72.8" style="font-size:7.75px;letter-spacing:0.05px" fill="#222">Betaproteobacteria</text>
<rect x="551.5" y="80.3" width="8.4" height="8.2" fill="#1aaecb" stroke="#555" stroke-width="0.6"/>
<text x="563.9" y="86.6" style="font-size:7.75px;letter-spacing:0.05px" fill="#222">Gammaproteobacteria</text>
<rect x="551.5" y="94.0" width="8.4" height="8.2" fill="#ffffff" stroke="#555" stroke-width="0.6"/>
<text x="563.9" y="100.3" style="font-size:7.75px;letter-spacing:0.05px" fill="#222">Non-proteobacteria</text>
<rect x="551.5" y="107.9" width="8.4" height="8.2" fill="#c0c0c0" stroke="#555" stroke-width="0.6"/>
<text x="563.9" y="114.2" style="font-size:7.75px;letter-spacing:0.05px" fill="#222">Unclassified</text>
<text x="331" y="161.9" style="font-weight:bold;font-size:12.3px" stroke="#000" stroke-width="0.45">c</text>
<path d="M390.4,163.5 V338.9 M448.9,163.5 V338.9 M507.3,163.5 V338.9 M565.7,163.5 V338.9 M624.2,163.5 V338.9 M332.0,202.5 H682.6 M332.0,251.2 H682.6 M332.0,299.9 H682.6" stroke="#e8e8e8" stroke-width="1.1" fill="none"/>
<path d="M345.6,188.3 L350.5,188.4 L347.1,189.6 L346.1,190.8 L347.1,192.3 L349.5,194.1 L353.9,194.2 L350.5,196.7 L347.1,198.1 L349.5,197.4 L353.4,195.7 L357.3,193.7 L360.2,191.8 L363.1,192.3 L367.0,192.8 L370.9,193.0 L373.9,193.7 L377.8,195.2 L380.7,198.1 L383.1,201.5 L385.1,202.2 L385.8,204.1 L386.5,206.2 L386.3,209.3 L386.5,211.9 L388.0,214.7 L389.8,217.5 L391.9,218.1 L393.2,219.5 L394.3,221.5 L396.3,223.9 L398.2,226.8 L400.6,228.8 L400.2,228.3 L398.2,225.4 L395.8,222.0 L395.5,220.2 L397.7,222.5 L401.1,225.9 L403.6,228.3 L404.7,230.3 L404.5,231.7 L406.5,233.4 L410.4,234.8 L413.3,235.9 L415.7,235.6 L418.2,237.6 L422.1,238.5 L423.7,240.5 L424.8,241.8 L427.4,243.2 L428.9,244.1 L430.4,243.4 L432.0,243.5 L431.8,242.9 L429.9,241.9 L427.9,242.4 L426.0,240.5 L426.3,236.6 L424.5,235.6 L421.3,235.6 L422.1,233.2 L422.6,230.3 L419.3,230.7 L419.2,231.9 L417.7,233.1 L415.3,233.5 L413.3,232.2 L412.1,229.8 L412.3,226.8 L412.8,224.1 L415.7,222.4 L418.7,222.6 L420.1,222.8 L421.1,221.6 L423.5,221.6 L425.2,222.0 L426.5,223.0 L426.8,224.4 L427.9,226.4 L429.0,226.7 L429.3,225.4 L428.0,222.0 L428.4,220.5 L430.4,218.8 L431.8,217.8 L433.8,216.8 L433.3,215.2 L433.8,214.2 L435.2,213.2 L435.2,211.8 L437.2,211.3 L439.1,210.6 L438.6,209.3 L441.6,207.9 L443.0,208.5 L445.5,207.9 L448.9,206.4 L447.9,206.7 L444.0,205.4 L444.5,203.5 L440.1,204.0 L443.0,202.4 L448.9,202.3 L452.8,200.3 L451.3,198.6 L447.4,196.2 L444.5,192.5 L442.5,194.2 L439.6,193.7 L439.1,191.8 L435.2,190.5 L431.8,190.3 L431.8,193.2 L432.3,196.2 L430.4,198.6 L429.4,201.2 L427.1,199.8 L425.5,197.4 L421.6,196.5 L417.2,195.7 L415.3,193.7 L416.7,191.8 L419.6,189.4 L422.6,188.4 L423.5,186.9 L427.4,186.4 L427.9,184.5 L424.5,183.5 L421.6,184.5 L417.2,183.5 L414.8,181.6 L412.8,184.5 L408.0,185.2 L402.1,184.7 L397.2,184.8 L392.4,184.2 L385.6,183.5 L380.7,183.0 L375.8,183.7 L370.0,183.3 L366.1,182.9 L359.3,182.2 L354.9,181.8 L349.5,182.8 L345.1,184.7 L347.1,185.9 L343.7,187.3Z M431.4,243.9 L431.9,244.7 L431.8,247.3 L430.4,249.5 L429.4,250.2 L428.9,252.2 L429.4,253.6 L428.4,255.4 L428.2,257.0 L429.4,258.5 L430.8,260.9 L432.8,263.9 L434.2,266.3 L438.6,269.0 L438.9,270.7 L438.8,275.6 L437.8,280.4 L437.5,283.3 L436.0,287.2 L435.5,290.2 L435.7,293.1 L435.2,296.0 L434.0,298.9 L435.2,301.8 L438.1,303.8 L440.6,305.3 L442.5,304.8 L440.6,302.8 L440.1,301.7 L441.1,300.2 L443.0,297.8 L441.6,296.5 L443.7,295.0 L445.0,292.6 L444.0,291.1 L446.7,290.6 L446.9,289.2 L450.8,288.7 L451.8,286.8 L450.3,284.8 L453.7,285.3 L455.7,283.8 L458.1,280.9 L460.0,278.5 L460.5,276.0 L464.4,273.6 L467.4,272.6 L468.3,270.7 L469.3,268.2 L469.3,264.3 L471.3,261.9 L473.2,259.0 L473.0,256.6 L470.3,254.9 L467.4,254.0 L464.0,253.6 L460.5,252.2 L458.6,251.2 L458.6,249.4 L457.1,247.0 L454.7,245.6 L451.8,245.4 L448.9,242.9 L446.9,240.8 L445.0,240.9 L441.1,241.0 L437.7,240.5 L437.2,239.3 L433.8,241.0 L432.0,243.1Z M500.7,218.1 L498.3,219.5 L497.9,221.5 L497.6,222.8 L494.6,224.2 L493.2,226.4 L491.7,228.1 L490.7,230.7 L491.6,232.7 L491.2,235.1 L490.4,236.9 L491.0,239.0 L492.7,240.5 L494.3,242.4 L496.1,244.6 L498.5,246.3 L500.0,246.9 L502.9,246.1 L505.4,246.5 L509.2,245.1 L511.7,245.1 L513.1,247.0 L515.6,246.8 L516.8,248.3 L516.1,251.2 L516.6,253.6 L519.0,256.1 L519.3,257.0 L520.0,260.0 L520.6,261.9 L519.5,264.3 L518.8,268.2 L520.0,271.2 L521.4,273.1 L522.1,277.5 L523.4,279.0 L524.8,282.4 L525.2,284.3 L526.8,285.1 L529.2,284.3 L532.1,284.3 L534.6,283.3 L537.5,280.2 L539.2,278.0 L539.4,276.0 L541.9,274.6 L541.9,272.6 L541.4,270.7 L543.3,268.2 L546.7,265.8 L546.7,261.4 L545.8,259.5 L545.5,257.0 L546.3,254.6 L547.7,253.1 L549.2,251.7 L552.1,249.3 L554.1,246.8 L555.5,244.9 L557.0,241.1 L557.2,239.7 L550.6,241.1 L549.5,239.5 L547.7,238.1 L545.8,236.1 L544.8,233.4 L543.5,230.7 L541.9,227.8 L539.9,223.9 L540.9,222.5 L540.6,220.8 L538.8,220.7 L535.5,221.1 L531.6,220.3 L529.7,219.4 L527.0,219.8 L526.3,221.7 L523.9,221.0 L522.1,219.7 L518.5,219.0 L517.2,217.9 L517.5,216.6 L518.1,215.4 L517.0,214.9 L513.1,215.1 L508.3,215.6 L505.4,217.0 L501.6,216.3Z M502.9,215.5 L505.4,215.4 L506.8,213.9 L507.3,212.7 L508.3,211.3 L510.4,210.4 L510.2,209.6 L511.7,208.8 L514.1,208.7 L515.6,208.1 L517.0,208.3 L518.0,209.8 L520.0,211.0 L522.4,212.0 L523.1,212.7 L522.6,214.0 L523.4,214.2 L523.9,213.2 L525.3,212.0 L522.9,210.8 L520.9,209.8 L519.5,208.3 L519.3,207.1 L520.5,206.9 L522.9,208.8 L526.2,210.5 L527.3,212.7 L528.2,214.7 L529.2,215.6 L530.7,214.2 L529.2,212.2 L529.7,211.8 L532.9,211.5 L533.3,211.9 L532.9,212.9 L533.6,214.4 L534.6,215.5 L536.5,215.9 L539.0,216.0 L541.0,215.4 L542.5,215.6 L542.4,216.6 L541.9,218.2 L541.3,219.5 L540.6,220.8 L540.9,222.5 L541.2,223.8 L542.1,224.4 L543.3,226.4 L544.8,228.3 L545.5,230.3 L547.0,232.2 L548.9,235.1 L548.9,236.6 L549.6,238.8 L551.1,238.7 L555.0,237.1 L558.1,235.7 L561.4,234.2 L563.6,232.7 L564.3,231.2 L565.5,229.5 L564.6,228.3 L562.2,227.3 L562.2,225.7 L561.4,226.4 L559.4,227.7 L557.6,227.5 L556.8,227.0 L556.1,225.4 L554.5,223.4 L554.1,222.0 L556.0,221.9 L557.5,224.0 L560.4,225.2 L561.8,224.9 L562.8,224.9 L564.3,226.4 L567.7,226.7 L572.4,226.6 L573.5,228.1 L574.3,229.4 L575.5,230.9 L578.0,230.3 L578.2,231.7 L578.4,234.2 L579.9,237.1 L580.8,239.7 L581.8,241.9 L582.8,243.3 L585.0,241.2 L585.4,238.5 L585.5,236.1 L587.5,235.1 L590.1,232.4 L591.9,230.9 L593.5,230.2 L595.4,229.8 L596.7,229.4 L597.2,231.0 L599.3,233.2 L599.1,235.1 L599.8,235.8 L602.5,235.1 L602.8,238.1 L603.2,240.5 L603.0,243.4 L605.0,246.3 L606.0,248.4 L608.0,249.9 L608.8,249.8 L608.1,248.8 L608.0,247.3 L606.8,245.3 L605.1,244.2 L603.9,241.0 L604.7,238.1 L605.6,238.9 L606.9,239.3 L607.6,240.9 L609.4,241.2 L609.6,242.8 L611.5,241.0 L613.5,240.0 L613.8,239.0 L613.3,236.1 L611.5,234.6 L610.3,232.9 L610.5,231.9 L612.0,230.5 L614.1,230.3 L614.4,231.4 L615.4,230.3 L618.3,229.5 L621.7,228.1 L623.7,226.4 L624.4,224.9 L625.6,223.4 L626.0,222.0 L626.0,221.0 L624.9,219.5 L623.5,217.1 L624.7,216.0 L626.6,214.9 L625.0,214.4 L623.1,214.8 L621.9,213.3 L623.7,212.6 L625.6,211.5 L626.1,211.8 L628.9,212.4 L629.2,214.4 L630.5,214.7 L630.3,217.3 L631.0,217.5 L633.2,216.8 L633.3,215.2 L632.0,212.2 L633.7,211.3 L634.9,209.7 L636.8,209.5 L640.3,207.9 L642.2,205.9 L643.9,204.0 L644.1,202.5 L644.9,200.6 L644.1,199.1 L641.2,198.6 L638.8,197.9 L641.7,196.2 L644.1,194.4 L646.6,193.4 L651.5,193.4 L655.3,193.4 L659.2,191.3 L665.6,191.0 L663.1,192.3 L660.2,194.9 L659.0,196.2 L659.2,199.6 L659.9,201.5 L661.7,200.6 L663.6,198.6 L665.6,196.2 L666.1,194.2 L668.0,192.8 L674.8,192.1 L679.7,190.3 L681.6,188.4 L682.6,187.9 L682.6,184.0 L677.8,183.3 L672.9,183.0 L668.0,183.3 L663.1,182.5 L658.3,182.0 L653.4,181.6 L648.5,180.8 L642.7,181.6 L634.9,182.0 L632.9,181.1 L631.0,179.6 L624.2,180.1 L617.8,179.6 L616.4,176.7 L608.6,175.5 L602.8,176.9 L596.9,177.2 L591.6,177.7 L592.0,178.6 L585.7,179.6 L583.3,180.8 L580.4,181.1 L578.9,184.5 L577.9,182.0 L577.9,180.3 L574.5,180.1 L572.4,182.3 L574.0,184.8 L571.6,183.7 L566.2,183.2 L564.8,184.5 L559.4,184.2 L552.1,185.0 L550.2,184.5 L546.7,185.2 L542.9,184.0 L539.4,183.7 L537.5,182.7 L535.1,182.0 L532.6,181.9 L530.2,182.4 L525.8,183.0 L522.9,184.2 L520.9,185.2 L519.5,186.9 L517.5,188.4 L515.1,189.4 L512.2,190.8 L512.2,192.3 L512.8,193.8 L515.1,194.6 L517.5,193.2 L518.0,193.7 L518.8,194.7 L519.9,197.0 L521.2,197.1 L522.9,196.5 L523.4,195.7 L525.8,192.9 L524.2,192.1 L524.8,190.3 L527.8,188.4 L528.7,187.1 L532.1,187.3 L531.8,187.9 L528.3,189.8 L528.0,191.8 L529.6,193.0 L532.6,192.4 L536.5,192.8 L534.6,193.1 L530.1,193.5 L531.0,194.7 L530.2,195.7 L527.8,195.9 L527.9,197.4 L526.3,198.2 L523.9,197.9 L520.4,198.3 L518.0,198.6 L516.8,197.7 L517.2,196.4 L517.5,195.0 L515.2,195.9 L515.7,197.1 L515.6,198.8 L514.1,199.1 L512.7,199.3 L512.0,199.8 L511.2,201.0 L509.7,201.4 L508.8,202.2 L507.5,203.0 L506.0,202.8 L505.8,203.8 L502.8,203.9 L502.9,204.5 L505.1,205.2 L506.1,206.1 L505.6,208.9 L503.4,208.8 L499.5,208.6 L498.2,209.3 L498.7,210.8 L498.0,213.4 L498.7,213.5 L498.5,215.2 L500.0,215.0 L501.2,215.4 L501.8,216.1Z M332.0,338.9 L682.6,338.9 L682.6,333.5 L672.9,328.1 L670.9,325.2 L672.9,321.3 L668.0,320.4 L663.1,319.4 L653.4,317.9 L643.7,316.0 L633.9,315.5 L624.2,316.0 L614.4,315.5 L604.7,315.5 L595.0,316.0 L585.2,316.3 L579.4,317.4 L576.5,319.4 L573.5,317.4 L570.6,316.0 L560.9,315.0 L556.0,316.0 L546.3,316.9 L536.5,318.9 L526.8,319.2 L517.0,319.4 L507.3,319.4 L497.6,320.8 L487.8,323.3 L478.1,326.2 L468.3,327.2 L458.6,326.7 L448.9,324.2 L446.9,319.4 L446.9,316.0 L448.9,314.0 L451.8,312.9 L445.9,314.0 L441.1,316.9 L434.2,319.9 L429.4,321.8 L419.6,321.8 L409.9,322.3 L400.2,323.1 L390.4,322.6 L380.7,323.5 L365.1,324.1 L361.2,325.2 L356.3,327.7 L351.5,332.5 L332.0,332.5Z M385.6,183.5 L392.4,184.2 L400.2,185.0 L409.9,184.5 L413.8,183.0 L415.7,181.1 L417.7,179.6 L419.6,178.5 L425.5,178.3 L429.4,178.0 L428.9,176.7 L430.4,175.7 L433.3,174.6 L437.2,173.7 L441.1,172.7 L445.0,172.0 L447.9,171.1 L444.0,170.6 L434.2,170.3 L424.5,170.9 L417.7,172.0 L411.8,172.8 L406.0,173.8 L400.2,174.4 L393.3,175.2 L389.4,176.2 L387.0,177.7 L385.6,181.6Z M419.6,181.1 L421.6,182.5 L425.5,183.0 L430.4,183.2 L436.2,185.0 L435.2,186.4 L431.3,188.6 L434.2,188.4 L437.2,188.9 L441.1,190.3 L443.5,189.8 L445.0,187.7 L446.9,186.2 L443.0,185.0 L441.6,183.5 L438.1,182.2 L433.3,180.6 L429.4,179.4 L421.6,179.6Z M392.9,183.5 L396.8,184.5 L403.1,184.2 L408.0,183.5 L408.9,181.3 L405.0,179.8 L397.2,179.6 L393.3,180.1 L391.9,181.6Z M390.4,181.6 L394.3,180.4 L390.4,178.7 L386.5,178.9 L385.1,181.3Z M419.6,176.2 L429.4,176.9 L433.3,174.7 L440.1,173.3 L446.9,171.3 L439.1,170.4 L429.4,170.4 L419.6,171.8 L414.8,172.8 L419.6,174.3Z M417.7,178.5 L429.4,178.6 L429.4,177.0 L417.7,176.9Z M413.8,174.3 L417.7,174.7 L422.6,173.3 L419.6,172.0 L413.8,173.0Z M393.3,178.3 L405.0,178.6 L412.8,178.1 L411.8,176.7 L405.0,177.2 L393.3,177.2Z M393.3,176.9 L395.3,175.7 L388.5,176.4Z M408.9,181.1 L412.8,181.6 L415.7,181.1 L419.6,179.1 L413.8,179.3 L408.9,179.6Z M422.6,189.1 L426.5,189.4 L428.4,188.4 L423.5,187.4Z M438.1,175.4 L441.1,176.2 L445.0,176.9 L449.8,177.7 L451.8,179.1 L453.7,181.3 L455.7,182.5 L454.7,184.5 L455.7,186.4 L457.6,188.9 L459.6,191.0 L462.5,192.1 L464.9,192.8 L466.4,190.8 L468.3,188.1 L472.2,187.1 L476.1,185.5 L482.9,184.5 L485.9,182.7 L486.8,181.1 L488.8,178.1 L489.8,175.2 L489.8,172.8 L496.1,171.9 L493.7,171.2 L485.9,170.4 L476.1,169.8 L463.5,170.3 L453.7,171.0 L446.9,171.5 L442.0,173.1 L436.2,174.6Z M485.4,189.1 L489.8,189.4 L492.7,188.6 L494.2,187.7 L491.7,186.4 L485.9,186.5 L483.9,187.4Z M453.0,205.1 L455.1,205.7 L456.1,204.9 L455.2,203.3 L453.2,200.9 L452.8,202.8 L449.5,204.8Z M425.5,229.9 L428.4,230.1 L431.3,231.0 L431.8,231.8 L435.0,231.5 L433.8,230.9 L431.8,230.0 L429.4,228.7 L426.9,228.7 L424.5,230.0Z M436.2,233.5 L437.7,234.1 L439.1,233.5 L440.8,233.1 L439.1,232.0 L436.4,231.8 L434.7,233.3Z M431.3,233.5 L432.5,233.8 L433.0,233.5 L431.0,233.3Z M441.8,233.7 L443.2,233.7 L443.4,233.3 L441.8,233.2Z M501.7,202.4 L504.4,201.9 L508.6,201.4 L509.0,199.9 L507.6,199.2 L507.1,198.4 L505.8,197.1 L504.9,196.7 L505.5,195.2 L503.9,195.0 L504.3,194.1 L502.4,194.1 L501.7,195.2 L501.9,196.4 L502.4,196.9 L502.5,197.8 L504.1,197.7 L504.2,198.6 L504.4,199.2 L502.8,199.3 L503.2,200.3 L502.2,200.8 L503.9,201.1Z M501.5,200.4 L501.5,198.8 L501.7,197.9 L500.2,197.2 L499.0,197.8 L497.6,198.4 L497.8,199.6 L497.3,200.6 L498.0,201.0 L500.5,200.6Z M519.5,214.6 L522.1,215.5 L522.5,213.9 L520.4,214.0 L519.4,214.3Z M516.6,213.1 L516.7,212.2 L516.4,211.1 L515.3,211.3 L515.5,213.2Z M516.6,210.3 L516.5,209.3 L515.7,209.8 L515.7,210.9Z M530.7,217.1 L532.6,217.1 L532.9,216.9 L530.2,216.8Z M539.0,217.4 L540.2,217.4 L540.9,216.5 L538.8,217.1Z M520.4,175.7 L523.9,176.7 L527.8,174.7 L533.6,173.2 L528.7,172.9 L522.9,173.3 L518.0,174.7Z M558.9,182.2 L561.8,182.3 L562.8,180.6 L565.7,179.1 L571.6,177.5 L574.0,176.2 L569.6,176.7 L563.8,177.7 L560.9,179.6 L557.9,181.6Z M560.9,173.3 L568.7,172.8 L565.7,172.0 L556.0,172.3 L551.1,172.8Z M604.7,175.0 L608.6,174.3 L604.7,173.5 L601.8,172.5 L599.8,173.8Z M641.7,178.3 L646.6,178.8 L653.4,178.0 L648.5,177.7 L643.7,176.9 L640.7,177.7Z M634.9,218.2 L636.8,217.8 L638.8,217.5 L639.8,218.6 L640.7,217.5 L642.7,217.3 L644.0,216.9 L644.5,215.6 L644.6,214.2 L645.6,212.7 L645.1,210.9 L643.7,211.1 L643.7,212.7 L642.2,214.4 L640.5,215.0 L639.3,216.4 L636.4,216.6 L634.8,218.1Z M633.7,219.4 L634.1,220.8 L635.2,220.6 L635.8,219.1 L634.8,218.2 L633.6,218.8Z M636.8,219.3 L638.4,218.7 L638.5,217.9 L636.4,218.6Z M643.7,210.8 L645.4,209.7 L646.9,210.3 L649.0,209.0 L648.0,208.3 L645.4,207.0 L645.1,208.8 L644.0,209.0Z M645.6,206.4 L647.1,205.9 L646.6,203.5 L647.6,203.0 L646.6,200.6 L646.6,198.3 L646.1,198.3 L645.6,201.0 L645.8,204.4Z M625.0,229.9 L625.6,228.8 L626.1,226.8 L625.2,226.7 L624.3,228.8Z M613.5,233.3 L614.6,233.4 L615.4,232.1 L614.4,231.6 L613.2,232.5Z M624.2,235.6 L624.8,237.6 L626.6,237.9 L628.1,238.5 L626.1,237.6 L625.7,236.1 L626.3,234.6 L626.4,233.2 L624.2,233.2Z M628.1,244.9 L629.5,245.6 L630.5,243.9 L629.5,241.8 L628.1,242.9 L626.6,243.4 L626.1,244.4Z M627.1,241.9 L629.0,241.5 L629.5,240.5 L628.1,240.0 L626.1,241.0Z M613.5,249.7 L614.4,252.2 L614.7,254.1 L618.3,254.6 L620.6,254.9 L620.8,253.1 L621.7,250.7 L622.2,250.2 L623.2,246.3 L622.0,244.9 L621.1,244.4 L619.8,246.1 L618.2,246.8 L615.9,248.7 L614.1,249.3Z M601.8,247.8 L603.2,249.4 L604.2,251.2 L605.7,253.1 L607.1,255.1 L609.1,256.9 L610.3,256.8 L610.5,254.1 L609.1,252.7 L608.1,251.2 L606.2,249.4 L604.9,248.8 L602.3,246.1 L600.1,245.7Z M611.0,258.4 L614.4,259.1 L618.8,259.7 L618.8,258.7 L616.9,257.8 L614.9,257.8 L613.0,257.5 L611.0,257.0 L609.8,257.8Z M619.3,259.8 L623.2,260.0 L627.1,261.1 L631.0,259.8 L631.0,259.3 L627.1,259.2 L623.2,259.3 L619.3,259.1Z M623.5,256.6 L624.7,256.6 L624.5,254.1 L625.2,253.8 L626.6,255.9 L627.1,255.6 L625.6,253.0 L627.4,252.2 L625.2,252.2 L625.2,250.2 L628.6,249.7 L629.0,249.7 L628.1,250.7 L624.7,250.7 L623.7,252.2 L623.0,254.1Z M635.9,253.9 L636.8,255.1 L638.8,255.6 L641.2,257.0 L641.7,259.4 L642.7,259.1 L644.6,260.1 L646.1,260.3 L647.1,260.0 L649.5,259.3 L651.0,260.9 L653.4,261.1 L651.0,259.0 L651.2,257.3 L649.5,256.6 L648.0,254.9 L644.6,253.7 L641.7,252.8 L638.8,254.4 L637.8,252.0 L634.9,252.5Z M617.8,272.6 L618.3,276.5 L617.7,277.0 L619.3,280.4 L620.0,283.6 L619.3,284.6 L622.2,285.3 L625.2,284.1 L628.1,283.3 L630.0,282.7 L632.9,282.0 L634.9,281.9 L637.8,282.9 L639.3,285.1 L641.2,283.3 L641.5,285.8 L643.4,287.2 L644.6,288.2 L647.6,288.6 L650.0,289.2 L651.5,288.0 L653.4,287.7 L654.4,284.3 L655.8,282.4 L656.9,279.0 L656.5,275.6 L654.4,273.6 L652.9,273.1 L649.8,269.7 L649.0,265.8 L647.1,264.8 L646.1,261.6 L645.1,263.9 L645.1,266.3 L644.1,268.2 L642.7,267.8 L640.7,266.6 L639.3,265.8 L640.5,263.2 L638.8,262.9 L636.4,262.4 L634.9,263.1 L633.4,265.6 L632.0,265.8 L630.0,264.8 L628.6,266.8 L626.6,267.8 L625.6,269.7 L622.2,271.0 L620.8,271.5 L618.8,272.4Z M648.7,292.3 L650.3,293.7 L651.5,293.1 L651.7,291.0 L648.1,290.8Z M675.8,285.6 L677.3,287.1 L677.4,288.3 L676.6,289.4 L677.8,290.2 L677.4,291.3 L677.9,291.7 L679.5,290.4 L680.6,289.4 L681.2,287.9 L678.2,287.2 L677.3,286.3 L675.5,284.7Z M674.8,291.5 L673.4,292.9 L671.2,294.1 L669.7,295.0 L669.5,296.0 L672.2,296.6 L673.5,295.9 L674.1,294.5 L675.3,293.9 L676.0,293.6 L677.1,291.7 L675.5,290.6Z M585.4,245.4 L586.7,245.1 L587.0,243.9 L585.4,241.7 L585.0,243.4Z M554.1,264.3 L552.6,266.3 L550.2,267.3 L550.6,268.2 L549.5,272.1 L549.9,274.1 L551.1,276.0 L553.1,275.6 L554.1,272.6 L555.5,268.2 L556.5,266.3 L555.3,262.9Z M447.9,301.8 L450.8,302.0 L451.0,301.2 L447.6,301.2Z M355.6,232.8 L356.5,232.2 L356.3,231.5 L355.4,231.7Z M332.0,187.9 L333.4,187.4 L335.9,187.9 L338.8,188.6 L339.8,187.9 L341.7,186.9 L340.3,186.4 L337.8,185.7 L334.9,184.5 L332.0,184.0Z M651.7,257.0 L653.9,257.3 L655.6,255.6 L654.9,255.3 L653.4,256.3 L651.5,256.6Z M654.9,254.9 L656.1,255.9 L656.5,255.7 L655.8,254.6 L654.2,253.8Z M658.8,258.0 L661.2,260.0 L664.1,261.7 L665.1,261.4 L663.1,259.5 L660.2,258.0 L658.3,257.0Z M667.0,271.4 L669.5,273.1 L670.0,272.9 L667.0,270.9Z M680.0,268.7 L681.2,268.9 L681.4,268.2 L679.7,268.1Z M670.2,267.1 L670.9,267.3 L670.4,266.3 L669.5,265.8Z M625.2,260.0 L626.6,259.5 L625.2,259.3 L623.7,259.5Z M628.6,261.1 L630.5,260.0 L631.3,259.3 L628.1,260.2Z M630.5,254.8 L632.5,254.7 L632.3,254.1 L630.0,253.9Z M631.8,251.5 L632.7,251.8 L632.0,250.9 L632.6,249.1 L631.5,249.7Z M634.4,254.6 L634.9,254.1 L633.4,253.9Z M636.8,257.5 L638.3,258.0 L638.3,256.6 L636.4,256.6Z M348.5,197.4 L345.6,198.6 L341.7,199.6 L335.9,200.4 L332.0,200.6 L332.0,201.3 L335.9,201.1 L341.7,200.3 L346.6,199.0 L349.0,198.0Z" fill="#d9d9d9" stroke="none"/>
<path d="M537.5,211.1 L541.4,210.3 L544.8,211.4 L547.7,210.8 L547.8,209.7 L545.8,208.3 L543.8,207.7 L541.9,207.2 L539.4,207.4 L539.9,206.4 L537.5,205.8 L536.2,207.2 L535.1,208.8 L534.6,210.8Z M554.1,210.3 L555.5,212.2 L555.5,214.7 L557.0,215.4 L559.9,214.7 L558.9,212.2 L558.4,210.3 L557.0,207.9 L558.9,206.4 L557.5,205.4 L555.0,205.8 L553.1,207.9Z" fill="#fff"/>
<path d="M385.6,178.8 L392.4,178.8 L398.2,178.5 L404.1,178.5 L409.9,178.7 L414.8,178.6" stroke="#fff" stroke-width="1.3" fill="none" stroke-linecap="round" stroke-linejoin="round"/>
<path d="M385.6,182.1 L390.4,182.8 L395.3,183.6" stroke="#fff" stroke-width="1.0" fill="none" stroke-linecap="round" stroke-linejoin="round"/>
<path d="M416.7,176.0 L421.6,176.6 L425.5,176.9" stroke="#fff" stroke-width="0.8" fill="none" stroke-linecap="round" stroke-linejoin="round"/>
<circle cx="647.6" cy="243.6" r="2.2" fill="#5d3114" stroke="#262626" stroke-width="0.45"/>
<circle cx="436.3" cy="292.2" r="4.3" fill="#6b6b6b" stroke="#262626" stroke-width="0.55"/>
<circle cx="378.6" cy="247.8" r="4.1" fill="#2473b6" stroke="#262626" stroke-width="0.55"/>
<circle cx="353.4" cy="229.0" r="3.9" fill="#2473b6" stroke="#262626" stroke-width="0.55"/>
<circle cx="517.2" cy="190.7" r="3.8" fill="#6b6b6b" stroke="#262626" stroke-width="0.55"/>
<circle cx="464.6" cy="282.6" r="3.8" fill="#2473b6" stroke="#262626" stroke-width="0.55"/>
<circle cx="482.8" cy="241.4" r="3.8" fill="#2473b6" stroke="#262626" stroke-width="0.55"/>
<circle cx="575.7" cy="260.7" r="3.8" fill="#2473b6" stroke="#262626" stroke-width="0.55"/>
<circle cx="620.0" cy="279.3" r="3.8" fill="#f28f2c" stroke="#262626" stroke-width="0.55"/>
<circle cx="656.4" cy="277.8" r="3.8" fill="#2473b6" stroke="#262626" stroke-width="0.55"/>
<circle cx="507.4" cy="168.2" r="3.6" fill="#2473b6" stroke="#262626" stroke-width="0.55"/>
<circle cx="598.2" cy="166.2" r="3.6" fill="#2473b6" stroke="#262626" stroke-width="0.55"/>
<circle cx="508.2" cy="172.8" r="3.5" fill="#2473b6" stroke="#262626" stroke-width="0.55"/>
<circle cx="432.7" cy="209.2" r="3.5" fill="#5d3114" stroke="#262626" stroke-width="0.55"/>
<circle cx="439.4" cy="213.6" r="3.5" fill="#2473b6" stroke="#262626" stroke-width="0.55"/>
<circle cx="435.9" cy="315.5" r="3.5" fill="#2473b6" stroke="#262626" stroke-width="0.55"/>
<circle cx="523.0" cy="196.3" r="3.5" fill="#2473b6" stroke="#262626" stroke-width="0.55"/>
<circle cx="534.6" cy="209.2" r="3.5" fill="#2473b6" stroke="#262626" stroke-width="0.55"/>
<circle cx="575.3" cy="228.7" r="3.5" fill="#5d3114" stroke="#262626" stroke-width="0.55"/>
<circle cx="548.1" cy="174.9" r="3.4" fill="#5d3114" stroke="#262626" stroke-width="0.55"/>
<circle cx="434.8" cy="240.4" r="3.4" fill="#2473b6" stroke="#262626" stroke-width="0.55"/>
<circle cx="498.1" cy="200.1" r="3.4" fill="#2473b6" stroke="#262626" stroke-width="0.55"/>
<circle cx="575.2" cy="228.8" r="3.4" fill="#5d3114" stroke="#262626" stroke-width="0.55"/>
<circle cx="445.8" cy="193.4" r="3.3" fill="#5d3114" stroke="#262626" stroke-width="0.55"/>
<circle cx="502.5" cy="192.1" r="3.3" fill="#2473b6" stroke="#262626" stroke-width="0.55"/>
<circle cx="515.5" cy="179.5" r="3.3" fill="#5d3114" stroke="#262626" stroke-width="0.55"/>
<circle cx="396.5" cy="192.7" r="3.3" fill="#6b6b6b" stroke="#262626" stroke-width="0.55"/>
<circle cx="396.3" cy="201.5" r="3.3" fill="#22b8cc" stroke="#262626" stroke-width="0.55"/>
<circle cx="390.7" cy="215.2" r="3.3" fill="#2473b6" stroke="#262626" stroke-width="0.55"/>
<circle cx="392.7" cy="218.0" r="3.3" fill="#2473b6" stroke="#262626" stroke-width="0.55"/>
<circle cx="398.4" cy="224.6" r="3.3" fill="#6b6b6b" stroke="#262626" stroke-width="0.55"/>
<circle cx="407.5" cy="224.7" r="3.3" fill="#6b6b6b" stroke="#262626" stroke-width="0.55"/>
<circle cx="425.4" cy="216.1" r="3.3" fill="#22b8cc" stroke="#262626" stroke-width="0.55"/>
<circle cx="465.3" cy="273.2" r="3.3" fill="#6b6b6b" stroke="#262626" stroke-width="0.55"/>
<circle cx="450.6" cy="311.1" r="3.3" fill="#f28f2c" stroke="#262626" stroke-width="0.55"/>
<circle cx="496.1" cy="209.2" r="3.3" fill="#2473b6" stroke="#262626" stroke-width="0.55"/>
<circle cx="502.2" cy="208.8" r="3.3" fill="#6b6b6b" stroke="#262626" stroke-width="0.55"/>
<circle cx="509.9" cy="207.3" r="3.3" fill="#f28f2c" stroke="#262626" stroke-width="0.55"/>
<circle cx="525.6" cy="217.7" r="3.3" fill="#2473b6" stroke="#262626" stroke-width="0.55"/>
<circle cx="591.5" cy="228.4" r="3.3" fill="#f28f2c" stroke="#262626" stroke-width="0.55"/>
<circle cx="545.1" cy="229.7" r="3.3" fill="#2473b6" stroke="#262626" stroke-width="0.55"/>
<circle cx="646.1" cy="240.1" r="3.3" fill="#2473b6" stroke="#262626" stroke-width="0.55"/>
<circle cx="642.4" cy="285.1" r="3.3" fill="#22b8cc" stroke="#262626" stroke-width="0.55"/>
<circle cx="648.5" cy="288.0" r="3.3" fill="#f28f2c" stroke="#262626" stroke-width="0.55"/>
<circle cx="667.5" cy="324.2" r="3.3" fill="#2473b6" stroke="#262626" stroke-width="0.55"/>
<circle cx="418.3" cy="189.6" r="3.2" fill="#2473b6" stroke="#262626" stroke-width="0.55"/>
<circle cx="387.8" cy="213.8" r="3.2" fill="#5d3114" stroke="#262626" stroke-width="0.55"/>
<circle cx="453.8" cy="260.9" r="3.2" fill="#f28f2c" stroke="#262626" stroke-width="0.55"/>
<circle cx="479.1" cy="254.4" r="3.2" fill="#2473b6" stroke="#262626" stroke-width="0.55"/>
<circle cx="563.6" cy="208.0" r="3.2" fill="#22b8cc" stroke="#262626" stroke-width="0.55"/>
<circle cx="597.9" cy="208.7" r="3.2" fill="#22b8cc" stroke="#262626" stroke-width="0.55"/>
<circle cx="591.2" cy="218.6" r="3.2" fill="#22b8cc" stroke="#262626" stroke-width="0.55"/>
<circle cx="526.3" cy="217.7" r="3.2" fill="#2473b6" stroke="#262626" stroke-width="0.55"/>
<circle cx="535.1" cy="275.5" r="3.2" fill="#f28f2c" stroke="#262626" stroke-width="0.55"/>
<circle cx="525.4" cy="281.4" r="3.2" fill="#f28f2c" stroke="#262626" stroke-width="0.55"/>
<circle cx="452.7" cy="167.1" r="3.1" fill="#2473b6" stroke="#262626" stroke-width="0.55"/>
<circle cx="512.3" cy="171.3" r="3.0" fill="#2473b6" stroke="#262626" stroke-width="0.55"/>
<circle cx="515.9" cy="170.8" r="3.0" fill="#2473b6" stroke="#262626" stroke-width="0.55"/>
<circle cx="509.7" cy="174.9" r="3.0" fill="#2473b6" stroke="#262626" stroke-width="0.55"/>
<circle cx="381.8" cy="204.6" r="3.0" fill="#2473b6" stroke="#262626" stroke-width="0.55"/>
<circle cx="386.9" cy="206.5" r="3.0" fill="#2473b6" stroke="#262626" stroke-width="0.55"/>
<circle cx="394.6" cy="220.3" r="3.0" fill="#2473b6" stroke="#262626" stroke-width="0.55"/>
<circle cx="389.4" cy="218.4" r="3.0" fill="#2473b6" stroke="#262626" stroke-width="0.55"/>
<circle cx="418.3" cy="224.2" r="3.0" fill="#6b6b6b" stroke="#262626" stroke-width="0.55"/>
<circle cx="424.5" cy="217.0" r="3.0" fill="#22b8cc" stroke="#262626" stroke-width="0.55"/>
<circle cx="432.7" cy="214.6" r="3.0" fill="#2473b6" stroke="#262626" stroke-width="0.55"/>
<circle cx="380.8" cy="294.8" r="3.0" fill="#2473b6" stroke="#262626" stroke-width="0.55"/>
<circle cx="434.8" cy="240.4" r="3.0" fill="#6b6b6b" stroke="#262626" stroke-width="0.55"/>
<circle cx="436.3" cy="292.2" r="3.0" fill="#2473b6" stroke="#262626" stroke-width="0.55"/>
<circle cx="516.7" cy="201.3" r="3.0" fill="#f28f2c" stroke="#262626" stroke-width="0.55"/>
<circle cx="510.0" cy="206.5" r="3.0" fill="#f28f2c" stroke="#262626" stroke-width="0.55"/>
<circle cx="507.2" cy="215.3" r="3.0" fill="#2473b6" stroke="#262626" stroke-width="0.55"/>
<circle cx="527.0" cy="212.7" r="3.0" fill="#6b6b6b" stroke="#262626" stroke-width="0.55"/>
<circle cx="528.1" cy="212.6" r="3.0" fill="#6b6b6b" stroke="#262626" stroke-width="0.55"/>
<circle cx="548.0" cy="201.9" r="3.0" fill="#f28f2c" stroke="#262626" stroke-width="0.55"/>
<circle cx="560.0" cy="215.2" r="3.0" fill="#22b8cc" stroke="#262626" stroke-width="0.55"/>
<circle cx="590.7" cy="210.6" r="3.0" fill="#22b8cc" stroke="#262626" stroke-width="0.55"/>
<circle cx="590.3" cy="211.2" r="3.0" fill="#22b8cc" stroke="#262626" stroke-width="0.55"/>
<circle cx="591.5" cy="218.6" r="3.0" fill="#22b8cc" stroke="#262626" stroke-width="0.55"/>
<circle cx="603.0" cy="233.0" r="3.0" fill="#f28f2c" stroke="#262626" stroke-width="0.55"/>
<circle cx="569.6" cy="236.4" r="3.0" fill="#2473b6" stroke="#262626" stroke-width="0.55"/>
<circle cx="591.5" cy="227.3" r="3.0" fill="#f28f2c" stroke="#262626" stroke-width="0.55"/>
<circle cx="547.6" cy="237.4" r="3.0" fill="#6b6b6b" stroke="#262626" stroke-width="0.55"/>
<circle cx="528.3" cy="213.1" r="3.0" fill="#6b6b6b" stroke="#262626" stroke-width="0.55"/>
<circle cx="563.4" cy="270.9" r="3.0" fill="#2473b6" stroke="#262626" stroke-width="0.55"/>
<circle cx="603.9" cy="233.1" r="3.0" fill="#f28f2c" stroke="#262626" stroke-width="0.55"/>
<circle cx="639.5" cy="208.8" r="3.0" fill="#2473b6" stroke="#262626" stroke-width="0.55"/>
<circle cx="643.4" cy="217.3" r="3.0" fill="#5d3114" stroke="#262626" stroke-width="0.55"/>
<circle cx="645.8" cy="240.1" r="3.0" fill="#2473b6" stroke="#262626" stroke-width="0.55"/>
<circle cx="591.5" cy="227.3" r="3.0" fill="#f28f2c" stroke="#262626" stroke-width="0.55"/>
<circle cx="517.3" cy="201.3" r="2.9" fill="#f28f2c" stroke="#262626" stroke-width="0.55"/>
<circle cx="426.5" cy="215.0" r="2.8" fill="#22b8cc" stroke="#262626" stroke-width="0.55"/>
<circle cx="431.5" cy="218.5" r="2.8" fill="#2473b6" stroke="#262626" stroke-width="0.55"/>
<circle cx="334.0" cy="279.7" r="2.8" fill="#22b8cc" stroke="#262626" stroke-width="0.55"/>
<circle cx="432.0" cy="249.6" r="2.8" fill="#6b6b6b" stroke="#262626" stroke-width="0.55"/>
<circle cx="507.5" cy="301.2" r="2.8" fill="#2473b6" stroke="#262626" stroke-width="0.55"/>
<circle cx="491.1" cy="208.4" r="2.8" fill="#2473b6" stroke="#262626" stroke-width="0.55"/>
<circle cx="499.5" cy="213.8" r="2.8" fill="#2473b6" stroke="#262626" stroke-width="0.55"/>
<circle cx="500.7" cy="212.6" r="2.8" fill="#2473b6" stroke="#262626" stroke-width="0.55"/>
<circle cx="543.0" cy="206.9" r="2.8" fill="#6b6b6b" stroke="#262626" stroke-width="0.55"/>
<circle cx="588.8" cy="226.1" r="2.8" fill="#f28f2c" stroke="#262626" stroke-width="0.55"/>
<circle cx="421.1" cy="223.4" r="2.7" fill="#2473b6" stroke="#262626" stroke-width="0.55"/>
<circle cx="428.0" cy="227.2" r="2.7" fill="#2473b6" stroke="#262626" stroke-width="0.55"/>
<circle cx="510.5" cy="192.6" r="2.7" fill="#2473b6" stroke="#262626" stroke-width="0.55"/>
<circle cx="510.3" cy="197.7" r="2.7" fill="#6b6b6b" stroke="#262626" stroke-width="0.55"/>
<circle cx="364.3" cy="173.1" r="2.6" fill="#6b6b6b" stroke="#262626" stroke-width="0.55"/>
<circle cx="411.8" cy="224.7" r="2.6" fill="#22b8cc" stroke="#262626" stroke-width="0.55"/>
<circle cx="371.5" cy="260.2" r="2.6" fill="#6b6b6b" stroke="#262626" stroke-width="0.55"/>
<circle cx="507.7" cy="199.6" r="2.6" fill="#2473b6" stroke="#262626" stroke-width="0.55"/>
<circle cx="529.4" cy="202.5" r="2.6" fill="#6b6b6b" stroke="#262626" stroke-width="0.55"/>
<circle cx="510.9" cy="211.1" r="2.6" fill="#6b6b6b" stroke="#262626" stroke-width="0.55"/>
<circle cx="539.7" cy="186.5" r="2.5" fill="#2473b6" stroke="#262626" stroke-width="0.55"/>
<circle cx="563.2" cy="184.1" r="2.5" fill="#5d3114" stroke="#262626" stroke-width="0.55"/>
<circle cx="682.0" cy="198.8" r="2.5" fill="#6b6b6b" stroke="#262626" stroke-width="0.55"/>
<circle cx="680.0" cy="212.1" r="2.5" fill="#6b6b6b" stroke="#262626" stroke-width="0.55"/>
<circle cx="390.0" cy="201.5" r="2.5" fill="#f28f2c" stroke="#262626" stroke-width="0.55"/>
<circle cx="385.6" cy="202.5" r="2.5" fill="#f28f2c" stroke="#262626" stroke-width="0.55"/>
<circle cx="390.0" cy="206.1" r="2.5" fill="#2473b6" stroke="#262626" stroke-width="0.55"/>
<circle cx="421.2" cy="212.3" r="2.5" fill="#f28f2c" stroke="#262626" stroke-width="0.55"/>
<circle cx="423.4" cy="221.5" r="2.5" fill="#22b8cc" stroke="#262626" stroke-width="0.55"/>
<circle cx="435.3" cy="223.0" r="2.5" fill="#2473b6" stroke="#262626" stroke-width="0.55"/>
<circle cx="424.8" cy="249.3" r="2.5" fill="#2473b6" stroke="#262626" stroke-width="0.55"/>
<circle cx="427.6" cy="227.6" r="2.5" fill="#2473b6" stroke="#262626" stroke-width="0.55"/>
<circle cx="432.8" cy="265.0" r="2.5" fill="#6b6b6b" stroke="#262626" stroke-width="0.55"/>
<circle cx="441.3" cy="274.1" r="2.5" fill="#6b6b6b" stroke="#262626" stroke-width="0.55"/>
<circle cx="438.0" cy="278.0" r="2.5" fill="#f28f2c" stroke="#262626" stroke-width="0.55"/>
<circle cx="468.1" cy="273.0" r="2.5" fill="#2473b6" stroke="#262626" stroke-width="0.55"/>
<circle cx="444.8" cy="314.0" r="2.5" fill="#2473b6" stroke="#262626" stroke-width="0.55"/>
<circle cx="474.2" cy="216.1" r="2.5" fill="#6b6b6b" stroke="#262626" stroke-width="0.55"/>
<circle cx="483.8" cy="231.1" r="2.5" fill="#2473b6" stroke="#262626" stroke-width="0.55"/>
<circle cx="492.6" cy="295.0" r="2.5" fill="#2473b6" stroke="#262626" stroke-width="0.55"/>
<circle cx="505.9" cy="201.1" r="2.5" fill="#f28f2c" stroke="#262626" stroke-width="0.55"/>
<circle cx="515.3" cy="195.5" r="2.5" fill="#2473b6" stroke="#262626" stroke-width="0.55"/>
<circle cx="512.6" cy="202.7" r="2.5" fill="#6b6b6b" stroke="#262626" stroke-width="0.55"/>
<circle cx="520.7" cy="203.4" r="2.5" fill="#f28f2c" stroke="#262626" stroke-width="0.55"/>
<circle cx="505.3" cy="205.7" r="2.5" fill="#2473b6" stroke="#262626" stroke-width="0.55"/>
<circle cx="503.0" cy="215.0" r="2.5" fill="#f28f2c" stroke="#262626" stroke-width="0.55"/>
<circle cx="509.5" cy="215.0" r="2.5" fill="#2473b6" stroke="#262626" stroke-width="0.55"/>
<circle cx="498.0" cy="216.1" r="2.5" fill="#2473b6" stroke="#262626" stroke-width="0.55"/>
<circle cx="495.3" cy="200.8" r="2.5" fill="#2473b6" stroke="#262626" stroke-width="0.55"/>
<circle cx="498.7" cy="203.1" r="2.5" fill="#2473b6" stroke="#262626" stroke-width="0.55"/>
<circle cx="515.2" cy="202.3" r="2.5" fill="#f28f2c" stroke="#262626" stroke-width="0.55"/>
<circle cx="561.8" cy="198.0" r="2.5" fill="#f28f2c" stroke="#262626" stroke-width="0.55"/>
<circle cx="537.7" cy="210.0" r="2.5" fill="#2473b6" stroke="#262626" stroke-width="0.55"/>
<circle cx="551.1" cy="213.4" r="2.5" fill="#f28f2c" stroke="#262626" stroke-width="0.55"/>
<circle cx="558.0" cy="213.8" r="2.5" fill="#22b8cc" stroke="#262626" stroke-width="0.55"/>
<circle cx="583.5" cy="198.3" r="2.5" fill="#22b8cc" stroke="#262626" stroke-width="0.55"/>
<circle cx="602.2" cy="215.2" r="2.5" fill="#22b8cc" stroke="#262626" stroke-width="0.55"/>
<circle cx="601.8" cy="215.0" r="2.5" fill="#22b8cc" stroke="#262626" stroke-width="0.55"/>
<circle cx="597.2" cy="210.4" r="2.5" fill="#22b8cc" stroke="#262626" stroke-width="0.55"/>
<circle cx="580.3" cy="227.7" r="2.5" fill="#f28f2c" stroke="#262626" stroke-width="0.55"/>
<circle cx="584.2" cy="230.0" r="2.5" fill="#f28f2c" stroke="#262626" stroke-width="0.55"/>
<circle cx="596.8" cy="229.2" r="2.5" fill="#6b6b6b" stroke="#262626" stroke-width="0.55"/>
<circle cx="585.6" cy="238.1" r="2.5" fill="#2473b6" stroke="#262626" stroke-width="0.55"/>
<circle cx="578.9" cy="230.2" r="2.5" fill="#f28f2c" stroke="#262626" stroke-width="0.55"/>
<circle cx="554.3" cy="223.1" r="2.5" fill="#5d3114" stroke="#262626" stroke-width="0.55"/>
<circle cx="544.6" cy="232.8" r="2.5" fill="#2473b6" stroke="#262626" stroke-width="0.55"/>
<circle cx="544.6" cy="237.6" r="2.5" fill="#f28f2c" stroke="#262626" stroke-width="0.55"/>
<circle cx="597.7" cy="239.7" r="2.5" fill="#2473b6" stroke="#262626" stroke-width="0.55"/>
<circle cx="605.9" cy="247.9" r="2.5" fill="#2473b6" stroke="#262626" stroke-width="0.55"/>
<circle cx="608.5" cy="250.0" r="2.5" fill="#2473b6" stroke="#262626" stroke-width="0.55"/>
<circle cx="630.7" cy="208.5" r="2.5" fill="#f28f2c" stroke="#262626" stroke-width="0.55"/>
<circle cx="646.8" cy="218.4" r="2.5" fill="#2473b6" stroke="#262626" stroke-width="0.55"/>
<circle cx="606.4" cy="248.3" r="2.5" fill="#2473b6" stroke="#262626" stroke-width="0.55"/>
<circle cx="608.9" cy="250.3" r="2.5" fill="#2473b6" stroke="#262626" stroke-width="0.55"/>
<circle cx="653.3" cy="244.4" r="2.5" fill="#2473b6" stroke="#262626" stroke-width="0.55"/>
<circle cx="665.5" cy="228.6" r="2.5" fill="#2473b6" stroke="#262626" stroke-width="0.55"/>
<circle cx="597.7" cy="239.6" r="2.5" fill="#2473b6" stroke="#262626" stroke-width="0.55"/>
<circle cx="516.7" cy="198.4" r="2.5" fill="#6b6b6b" stroke="#262626" stroke-width="0.55"/>
<circle cx="521.9" cy="203.6" r="2.5" fill="#f28f2c" stroke="#262626" stroke-width="0.55"/>
<circle cx="415.7" cy="192.2" r="2.4" fill="#2473b6" stroke="#262626" stroke-width="0.55"/>
<circle cx="341.6" cy="290.0" r="2.4" fill="#2473b6" stroke="#262626" stroke-width="0.55"/>
<circle cx="525.5" cy="202.1" r="2.4" fill="#f28f2c" stroke="#262626" stroke-width="0.55"/>
<circle cx="392.7" cy="200.8" r="2.3" fill="#f28f2c" stroke="#262626" stroke-width="0.55"/>
<circle cx="381.7" cy="198.0" r="2.3" fill="#f28f2c" stroke="#262626" stroke-width="0.55"/>
<circle cx="341.6" cy="280.3" r="2.3" fill="#2473b6" stroke="#262626" stroke-width="0.55"/>
<circle cx="432.8" cy="260.9" r="2.3" fill="#6b6b6b" stroke="#262626" stroke-width="0.55"/>
<circle cx="508.4" cy="211.1" r="2.3" fill="#f28f2c" stroke="#262626" stroke-width="0.55"/>
<circle cx="523.3" cy="203.1" r="2.3" fill="#f28f2c" stroke="#262626" stroke-width="0.55"/>
<circle cx="581.7" cy="219.6" r="2.3" fill="#f28f2c" stroke="#262626" stroke-width="0.55"/>
<circle cx="579.2" cy="236.1" r="2.3" fill="#f28f2c" stroke="#262626" stroke-width="0.55"/>
<circle cx="581.9" cy="242.5" r="2.3" fill="#2473b6" stroke="#262626" stroke-width="0.55"/>
<circle cx="578.9" cy="235.9" r="2.3" fill="#f28f2c" stroke="#262626" stroke-width="0.55"/>
<circle cx="597.2" cy="228.8" r="2.3" fill="#6b6b6b" stroke="#262626" stroke-width="0.55"/>
<circle cx="558.9" cy="222.6" r="2.3" fill="#f28f2c" stroke="#262626" stroke-width="0.55"/>
<circle cx="539.2" cy="276.5" r="2.3" fill="#6b6b6b" stroke="#262626" stroke-width="0.55"/>
<circle cx="605.4" cy="238.2" r="2.3" fill="#6b6b6b" stroke="#262626" stroke-width="0.55"/>
<circle cx="617.0" cy="248.6" r="2.3" fill="#f28f2c" stroke="#262626" stroke-width="0.55"/>
<circle cx="644.5" cy="213.1" r="2.3" fill="#2473b6" stroke="#262626" stroke-width="0.55"/>
<circle cx="617.1" cy="248.8" r="2.3" fill="#f28f2c" stroke="#262626" stroke-width="0.55"/>
<circle cx="605.4" cy="238.0" r="2.3" fill="#6b6b6b" stroke="#262626" stroke-width="0.55"/>
<circle cx="625.4" cy="284.0" r="2.3" fill="#f28f2c" stroke="#262626" stroke-width="0.55"/>
<circle cx="676.8" cy="291.0" r="2.3" fill="#2473b6" stroke="#262626" stroke-width="0.55"/>
<circle cx="583.1" cy="317.5" r="2.3" fill="#f28f2c" stroke="#262626" stroke-width="0.55"/>
<circle cx="356.0" cy="242.3" r="2.2" fill="#5d3114" stroke="#262626" stroke-width="0.55"/>
<circle cx="357.3" cy="242.2" r="2.2" fill="#5d3114" stroke="#262626" stroke-width="0.55"/>
<circle cx="512.2" cy="192.3" r="2.2" fill="#f28f2c" stroke="#262626" stroke-width="0.55"/>
<circle cx="545.1" cy="243.0" r="2.2" fill="#f28f2c" stroke="#262626" stroke-width="0.55"/>
<circle cx="499.2" cy="199.6" r="2.1" fill="#f28f2c" stroke="#262626" stroke-width="0.55"/>
<circle cx="519.4" cy="173.9" r="2.0" fill="#2473b6" stroke="#262626" stroke-width="0.55"/>
<circle cx="427.3" cy="221.9" r="2.0" fill="#6b6b6b" stroke="#262626" stroke-width="0.55"/>
<circle cx="496.4" cy="214.6" r="2.0" fill="#f28f2c" stroke="#262626" stroke-width="0.55"/>
<circle cx="510.3" cy="210.7" r="2.0" fill="#6b6b6b" stroke="#262626" stroke-width="0.55"/>
<circle cx="585.0" cy="221.5" r="2.0" fill="#f28f2c" stroke="#262626" stroke-width="0.55"/>
<circle cx="555.8" cy="225.6" r="2.0" fill="#2473b6" stroke="#262626" stroke-width="0.55"/>
<circle cx="543.0" cy="240.5" r="2.0" fill="#f28f2c" stroke="#262626" stroke-width="0.55"/>
<circle cx="623.1" cy="284.8" r="2.0" fill="#f28f2c" stroke="#262626" stroke-width="0.55"/>
<circle cx="519.6" cy="205.3" r="2.0" fill="#2473b6" stroke="#262626" stroke-width="0.55"/>
<circle cx="592.5" cy="208.5" r="1.8" fill="#2473b6" stroke="#262626" stroke-width="0.55"/>
<circle cx="419.6" cy="209.6" r="1.5" fill="#6b6b6b" stroke="#262626" stroke-width="0.4"/>
<circle cx="515.6" cy="211.5" r="1.5" fill="#2473b6" stroke="#262626" stroke-width="0.4"/>
<circle cx="519.1" cy="208.1" r="1.5" fill="#2473b6" stroke="#262626" stroke-width="0.4"/>
<circle cx="581.5" cy="233.4" r="1.5" fill="#22b8cc" stroke="#262626" stroke-width="0.4"/>
<circle cx="619.3" cy="180.2" r="1.3" fill="#5d3114" stroke="#262626" stroke-width="0.4"/>
<circle cx="525.6" cy="206.9" r="1.3" fill="#22b8cc" stroke="#262626" stroke-width="0.4"/>
<circle cx="519.2" cy="208.0" r="1.3" fill="#2473b6" stroke="#262626" stroke-width="0.4"/>
<circle cx="523.0" cy="212.6" r="1.3" fill="#2473b6" stroke="#262626" stroke-width="0.4"/>
<circle cx="541.5" cy="221.5" r="1.3" fill="#22b8cc" stroke="#262626" stroke-width="0.4"/>
<circle cx="633.4" cy="207.5" r="1.3" fill="#f28f2c" stroke="#262626" stroke-width="0.4"/>
<circle cx="343.1" cy="180.0" r="1.2" fill="#2473b6" stroke="#262626" stroke-width="0.4"/>
<circle cx="475.9" cy="169.3" r="1.2" fill="#2473b6" stroke="#262626" stroke-width="0.4"/>
<circle cx="455.5" cy="188.3" r="1.2" fill="#2473b6" stroke="#262626" stroke-width="0.4"/>
<circle cx="524.6" cy="175.4" r="1.2" fill="#f28f2c" stroke="#262626" stroke-width="0.4"/>
<circle cx="550.2" cy="180.7" r="1.2" fill="#2473b6" stroke="#262626" stroke-width="0.4"/>
<circle cx="528.5" cy="189.9" r="1.2" fill="#f28f2c" stroke="#262626" stroke-width="0.4"/>
<circle cx="388.8" cy="201.4" r="1.2" fill="#22b8cc" stroke="#262626" stroke-width="0.4"/>
<circle cx="397.5" cy="211.1" r="1.2" fill="#5d3114" stroke="#262626" stroke-width="0.4"/>
<circle cx="440.8" cy="272.1" r="1.2" fill="#f28f2c" stroke="#262626" stroke-width="0.4"/>
<circle cx="461.7" cy="274.2" r="1.2" fill="#f28f2c" stroke="#262626" stroke-width="0.4"/>
<circle cx="493.1" cy="264.4" r="1.2" fill="#2473b6" stroke="#262626" stroke-width="0.4"/>
<circle cx="507.5" cy="306.4" r="1.2" fill="#2473b6" stroke="#262626" stroke-width="0.4"/>
<circle cx="497.6" cy="222.6" r="1.2" fill="#2473b6" stroke="#262626" stroke-width="0.4"/>
<circle cx="522.9" cy="213.0" r="1.2" fill="#2473b6" stroke="#262626" stroke-width="0.4"/>
<circle cx="528.5" cy="190.0" r="1.2" fill="#f28f2c" stroke="#262626" stroke-width="0.4"/>
<circle cx="609.6" cy="200.9" r="1.2" fill="#6b6b6b" stroke="#262626" stroke-width="0.4"/>
<circle cx="570.2" cy="226.3" r="1.2" fill="#f28f2c" stroke="#262626" stroke-width="0.4"/>
<circle cx="540.5" cy="251.5" r="1.2" fill="#22b8cc" stroke="#262626" stroke-width="0.4"/>
<circle cx="536.0" cy="257.2" r="1.2" fill="#22b8cc" stroke="#262626" stroke-width="0.4"/>
<circle cx="570.2" cy="226.3" r="1.2" fill="#f28f2c" stroke="#262626" stroke-width="0.4"/>
<circle cx="623.9" cy="266.8" r="1.2" fill="#5d3114" stroke="#262626" stroke-width="0.4"/>
<circle cx="648.1" cy="236.1" r="1.2" fill="#6b6b6b" stroke="#262626" stroke-width="0.4"/>
<circle cx="356.4" cy="181.5" r="1.1" fill="#2473b6" stroke="#262626" stroke-width="0.4"/>
<circle cx="372.0" cy="183.7" r="1.1" fill="#2473b6" stroke="#262626" stroke-width="0.4"/>
<circle cx="384.2" cy="193.3" r="1.1" fill="#5d3114" stroke="#262626" stroke-width="0.4"/>
<circle cx="423.8" cy="179.0" r="1.1" fill="#2473b6" stroke="#262626" stroke-width="0.4"/>
<circle cx="418.8" cy="182.9" r="1.1" fill="#5d3114" stroke="#262626" stroke-width="0.4"/>
<circle cx="584.7" cy="174.4" r="1.1" fill="#2473b6" stroke="#262626" stroke-width="0.4"/>
<circle cx="404.9" cy="211.7" r="1.1" fill="#f28f2c" stroke="#262626" stroke-width="0.4"/>
<circle cx="372.8" cy="214.8" r="1.1" fill="#2473b6" stroke="#262626" stroke-width="0.4"/>
<circle cx="361.2" cy="268.3" r="1.1" fill="#2473b6" stroke="#262626" stroke-width="0.4"/>
<circle cx="335.5" cy="271.5" r="1.1" fill="#6b6b6b" stroke="#262626" stroke-width="0.4"/>
<circle cx="405.6" cy="233.0" r="1.1" fill="#2473b6" stroke="#262626" stroke-width="0.4"/>
<circle cx="406.8" cy="245.0" r="1.1" fill="#2473b6" stroke="#262626" stroke-width="0.4"/>
<circle cx="407.4" cy="254.2" r="1.1" fill="#5d3114" stroke="#262626" stroke-width="0.4"/>
<circle cx="453.8" cy="254.0" r="1.1" fill="#f28f2c" stroke="#262626" stroke-width="0.4"/>
<circle cx="459.1" cy="311.7" r="1.1" fill="#2473b6" stroke="#262626" stroke-width="0.4"/>
<circle cx="462.4" cy="229.1" r="1.1" fill="#2473b6" stroke="#262626" stroke-width="0.4"/>
<circle cx="673.9" cy="295.6" r="1.1" fill="#2473b6" stroke="#262626" stroke-width="0.4"/>
<circle cx="373.8" cy="164.9" r="1.0" fill="#2473b6" stroke="#262626" stroke-width="0.4"/>
<circle cx="587.3" cy="234.6" r="1.0" fill="#5d3114" stroke="#262626" stroke-width="0.4"/>
<circle cx="519.0" cy="173.6" r="0.8" fill="#5d3114" stroke="#262626" stroke-width="0.4"/>
<circle cx="628" cy="214" r="2.3" fill="#2473b6" stroke="#262626" stroke-width="0.45"/>
<circle cx="631" cy="213.5" r="2.7" fill="#2473b6" stroke="#262626" stroke-width="0.45"/>
<circle cx="634" cy="215" r="2.7" fill="#2473b6" stroke="#262626" stroke-width="0.45"/>
<circle cx="636.5" cy="217" r="2.3" fill="#2473b6" stroke="#262626" stroke-width="0.45"/>
<circle cx="629" cy="217.5" r="2.7" fill="#2473b6" stroke="#262626" stroke-width="0.45"/>
<circle cx="632" cy="218.5" r="2.7" fill="#2473b6" stroke="#262626" stroke-width="0.45"/>
<circle cx="635" cy="220" r="2.3" fill="#2473b6" stroke="#262626" stroke-width="0.45"/>
<circle cx="627.5" cy="221" r="2.7" fill="#2473b6" stroke="#262626" stroke-width="0.45"/>
<circle cx="630.5" cy="222" r="2.7" fill="#2473b6" stroke="#262626" stroke-width="0.45"/>
<circle cx="633.5" cy="223.5" r="2.3" fill="#2473b6" stroke="#262626" stroke-width="0.45"/>
<circle cx="629" cy="225.5" r="2.7" fill="#2473b6" stroke="#262626" stroke-width="0.45"/>
<circle cx="632" cy="226.5" r="2.7" fill="#2473b6" stroke="#262626" stroke-width="0.45"/>
<circle cx="627" cy="228" r="2.3" fill="#2473b6" stroke="#262626" stroke-width="0.45"/>
<circle cx="630" cy="229" r="2.7" fill="#2473b6" stroke="#262626" stroke-width="0.45"/>
<circle cx="625.5" cy="224.5" r="2.7" fill="#2473b6" stroke="#262626" stroke-width="0.45"/>
<circle cx="617" cy="229" r="2.3" fill="#2473b6" stroke="#262626" stroke-width="0.45"/>
<circle cx="620" cy="230" r="2.7" fill="#2473b6" stroke="#262626" stroke-width="0.45"/>
<circle cx="623" cy="230.5" r="2.7" fill="#2473b6" stroke="#262626" stroke-width="0.45"/>
<circle cx="626" cy="231" r="2.3" fill="#2473b6" stroke="#262626" stroke-width="0.45"/>
<circle cx="618" cy="232.5" r="2.7" fill="#2473b6" stroke="#262626" stroke-width="0.45"/>
<circle cx="621" cy="233.5" r="2.7" fill="#2473b6" stroke="#262626" stroke-width="0.45"/>
<circle cx="624" cy="234" r="2.3" fill="#2473b6" stroke="#262626" stroke-width="0.45"/>
<circle cx="619" cy="236.5" r="2.7" fill="#2473b6" stroke="#262626" stroke-width="0.45"/>
<circle cx="622" cy="237.5" r="2.7" fill="#2473b6" stroke="#262626" stroke-width="0.45"/>
<circle cx="625" cy="236.5" r="2.3" fill="#2473b6" stroke="#262626" stroke-width="0.45"/>
<circle cx="617" cy="235" r="2.7" fill="#2473b6" stroke="#262626" stroke-width="0.45"/>
<circle cx="627" cy="234" r="2.7" fill="#2473b6" stroke="#262626" stroke-width="0.45"/>
<circle cx="622.8" cy="213.0" r="2.5" fill="#f28f2c" stroke="#262626" stroke-width="0.45"/>
<circle cx="620.5" cy="218.4" r="3.0" fill="#f28f2c" stroke="#262626" stroke-width="0.45"/>
<circle cx="623.7" cy="220.7" r="3.0" fill="#f28f2c" stroke="#262626" stroke-width="0.45"/>
<circle cx="626.8" cy="221.6" r="2.5" fill="#f28f2c" stroke="#262626" stroke-width="0.45"/>
<circle cx="620.5" cy="223.8" r="2.8" fill="#f28f2c" stroke="#262626" stroke-width="0.45"/>
<circle cx="624.1" cy="225.6" r="2.5" fill="#f28f2c" stroke="#262626" stroke-width="0.45"/>
<circle cx="618.7" cy="226.0" r="2.5" fill="#f28f2c" stroke="#262626" stroke-width="0.45"/>
<circle cx="611.1" cy="222.5" r="3.0" fill="#f28f2c" stroke="#262626" stroke-width="0.45"/>
<circle cx="613.8" cy="227.8" r="3.3" fill="#2473b6" stroke="#262626" stroke-width="0.45"/>
<circle cx="626.4" cy="211.7" r="2.5" fill="#6b6b6b" stroke="#262626" stroke-width="0.45"/>
<circle cx="609.8" cy="230.9" r="2.0" fill="#6b6b6b" stroke="#262626" stroke-width="0.45"/>
<circle cx="617.0" cy="214.4" r="2.5" fill="#22b8cc" stroke="#262626" stroke-width="0.45"/>
<circle cx="619.2" cy="208.6" r="3.3" fill="#22b8cc" stroke="#262626" stroke-width="0.45"/>
<circle cx="628.6" cy="231.9" r="1.2" fill="#2473b6" stroke="#262626" stroke-width="0.45"/>
<circle cx="630.8" cy="231.9" r="1.2" fill="#2473b6" stroke="#262626" stroke-width="0.45"/>
<circle cx="635.3" cy="221.1" r="1.5" fill="#22b8cc" stroke="#262626" stroke-width="0.45"/>
<circle cx="439.7" cy="208.4" r="4.85" fill="#2473b6" stroke="#262626" stroke-width="0.45"/>
<circle cx="439.7" cy="208.4" r="2.9" fill="#2473b6" stroke="#262626" stroke-width="0.45"/>
<circle cx="563.4" cy="270.9" r="1.9" fill="#2473b6" stroke="#262626" stroke-width="0.45"/>
<circle cx="525.4" cy="281.4" r="2.0" fill="#f28f2c" stroke="#262626" stroke-width="0.45"/>
<circle cx="541.4" cy="219.3" r="1.0" fill="#2473b6" stroke="#262626" stroke-width="0.45"/>
<circle cx="436.3" cy="292.2" r="2.0" fill="#2473b6" stroke="#262626" stroke-width="0.45"/>
<path d="M358.10,233.80 L358.74,235.52 L360.57,235.60 L359.14,236.74 L359.63,238.50 L358.10,237.49 L356.57,238.50 L357.06,236.74 L355.63,235.60 L357.46,235.52Z" fill="#8556c0" stroke="#3a1d6a" stroke-width="0.5"/>
<path d="M359.91,236.27 L360.56,237.99 L362.39,238.07 L360.95,239.21 L361.44,240.97 L359.91,239.96 L358.39,240.97 L358.88,239.21 L357.44,238.07 L359.27,237.99Z" fill="#8556c0" stroke="#3a1d6a" stroke-width="0.5"/>
<path d="M361.73,238.74 L362.37,240.46 L364.20,240.54 L362.77,241.68 L363.26,243.45 L361.73,242.43 L360.20,243.45 L360.69,241.68 L359.26,240.54 L361.09,240.46Z" fill="#8556c0" stroke="#3a1d6a" stroke-width="0.5"/>
<path d="M363.54,241.21 L364.18,242.93 L366.02,243.01 L364.58,244.15 L365.07,245.92 L363.54,244.91 L362.01,245.92 L362.50,244.15 L361.07,243.01 L362.90,242.93Z" fill="#8556c0" stroke="#3a1d6a" stroke-width="0.5"/>
<path d="M365.36,243.69 L366.00,245.40 L367.83,245.48 L366.40,246.62 L366.89,248.39 L365.36,247.38 L363.83,248.39 L364.32,246.62 L362.88,245.48 L364.72,245.40Z" fill="#8556c0" stroke="#3a1d6a" stroke-width="0.5"/>
<path d="M367.17,246.16 L367.81,247.87 L369.64,247.95 L368.21,249.09 L368.70,250.86 L367.17,249.85 L365.64,250.86 L366.13,249.09 L364.70,247.95 L366.53,247.87Z" fill="#8556c0" stroke="#3a1d6a" stroke-width="0.5"/>
<path d="M368.99,248.63 L369.63,250.35 L371.46,250.43 L370.02,251.57 L370.51,253.33 L368.99,252.32 L367.46,253.33 L367.95,251.57 L366.51,250.43 L368.34,250.35Z" fill="#8556c0" stroke="#3a1d6a" stroke-width="0.5"/>
<path d="M370.80,251.10 L371.44,252.82 L373.27,252.90 L371.84,254.04 L372.33,255.80 L370.80,254.79 L369.27,255.80 L369.76,254.04 L368.33,252.90 L370.16,252.82Z" fill="#8556c0" stroke="#3a1d6a" stroke-width="0.5"/>
<path d="M387.90,202.20 L388.54,203.92 L390.37,204.00 L388.94,205.14 L389.43,206.90 L387.90,205.89 L386.37,206.90 L386.86,205.14 L385.43,204.00 L387.26,203.92Z" fill="#8556c0" stroke="#3a1d6a" stroke-width="0.5"/>
<path d="M428.20,217.20 L428.84,218.92 L430.67,219.00 L429.24,220.14 L429.73,221.90 L428.20,220.89 L426.67,221.90 L427.16,220.14 L425.73,219.00 L427.56,218.92Z" fill="#8556c0" stroke="#3a1d6a" stroke-width="0.5"/>
<text x="363.5" y="354" style="font-size:8.4px;letter-spacing:0.25px" fill="#222">Environmental type</text>
<circle cx="369.3" cy="365.7" r="5.1" fill="#2473b6" stroke="#2a2a2a" stroke-width="0.5"/>
<text x="378.7" y="368.4" style="font-size:7.4px" fill="#222">Marine</text>
<circle cx="437.1" cy="365.7" r="5.1" fill="#5d3114" stroke="#2a2a2a" stroke-width="0.5"/>
<text x="446.9" y="368.4" style="font-size:7.4px" fill="#222">Sediment</text>
<circle cx="500.2" cy="365.7" r="5.1" fill="#6b6b6b" stroke="#2a2a2a" stroke-width="0.5"/>
<text x="510" y="368.4" style="font-size:7.4px" fill="#222">Other</text>
<circle cx="369.3" cy="383.9" r="5.1" fill="#22b8cc" stroke="#2a2a2a" stroke-width="0.5"/>
<text x="378.7" y="386.6" style="font-size:7.4px" fill="#222">Freshwater</text>
<circle cx="437.1" cy="383.9" r="5.1" fill="#f28f2c" stroke="#2a2a2a" stroke-width="0.5"/>
<text x="446.9" y="386.6" style="font-size:7.4px" fill="#222">Soil</text>
<text x="556.2" y="353.6" style="font-size:8.4px;letter-spacing:0.2px" fill="#222"># of Genomes</text>
<circle cx="557.4" cy="365.8" r="1.0" fill="none" stroke="#333" stroke-width="0.5"/>
<circle cx="584" cy="365.8" r="3.9" fill="none" stroke="#333" stroke-width="0.6"/>
<circle cx="617" cy="365.8" r="4.9" fill="none" stroke="#333" stroke-width="0.6"/>
<text x="561.6" y="368.4" style="font-size:7.4px" fill="#222">1</text>
<text x="590.5" y="368.4" style="font-size:7.4px" fill="#222">10</text>
<text x="625.7" y="368.4" style="font-size:7.4px" fill="#222">100</text>
</svg></body></html>
